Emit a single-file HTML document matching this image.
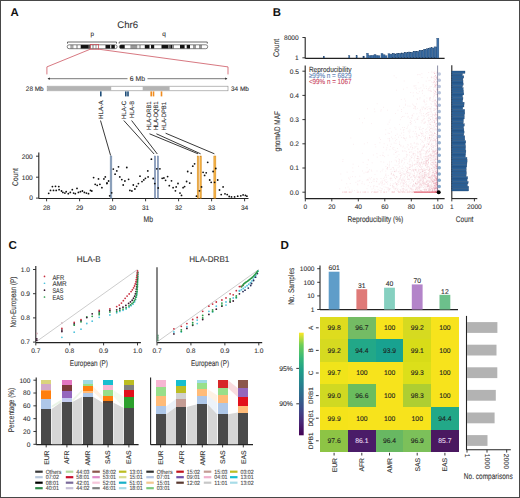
<!DOCTYPE html>
<html><head><meta charset="utf-8"><style>
html,body{margin:0;padding:0;background:#fff;width:520px;height:498px;overflow:hidden;}
svg{display:block;font-family:"Liberation Sans",sans-serif;text-rendering:geometricPrecision;}
</style></head><body>
<svg width="520" height="498" viewBox="0 0 520 498">
<rect x="0" y="0" width="520" height="498" fill="#fff"/>
<text x="10.6" y="16.2" font-size="11.4" text-anchor="start" fill="#111" font-weight="bold">A</text>
<text x="272.8" y="16.2" font-size="11.4" text-anchor="start" fill="#111" font-weight="bold">B</text>
<text x="8.4" y="249.2" font-size="11.6" text-anchor="start" fill="#111" font-weight="bold">C</text>
<text x="280.6" y="249.0" font-size="11.6" text-anchor="start" fill="#111" font-weight="bold">D</text>
<text x="127.7" y="28.3" font-size="9.6" text-anchor="middle" fill="#333" font-weight="normal" stroke="#333" stroke-width="0.1">Chr6</text>
<text x="92.2" y="36.0" font-size="6.4" text-anchor="middle" fill="#333" font-weight="normal" stroke="#333" stroke-width="0.1">p</text>
<text x="164.0" y="36.0" font-size="6.4" text-anchor="middle" fill="#333" font-weight="normal" stroke="#333" stroke-width="0.1">q</text>
<path d="M67.5 43.6 V42 H116.5 V43.6" fill="none" stroke="#444" stroke-width="0.8"/>
<path d="M119.2 43.6 V42 H207.3 V43.6" fill="none" stroke="#444" stroke-width="0.8"/>
<clipPath id="clip67"><rect x="67.2" y="44.8" width="49.90" height="3.9" rx="1.9"/></clipPath>
<g clip-path="url(#clip67)"><rect x="67.2" y="44.8" width="49.90" height="3.9" fill="#fff"/>
<rect x="70.30" y="44.80" width="3.20" height="3.90" fill="#aaa"/>
<rect x="76.00" y="44.80" width="2.00" height="3.90" fill="#bbb"/>
<rect x="80.70" y="44.80" width="8.10" height="3.90" fill="#111"/>
<rect x="88.80" y="44.80" width="1.70" height="3.90" fill="#555"/>
<rect x="92.00" y="44.80" width="2.00" height="3.90" fill="#bbb"/>
<rect x="95.00" y="44.80" width="2.00" height="3.90" fill="#ccc"/>
<rect x="105.50" y="44.80" width="4.70" height="3.90" fill="#111"/>
<rect x="111.30" y="44.80" width="3.50" height="3.90" fill="#111"/>
</g>
<rect x="67.2" y="44.8" width="49.90" height="3.9" rx="1.9" fill="none" stroke="#333" stroke-width="0.6"/>
<clipPath id="clip119"><rect x="119.4" y="44.8" width="88.30" height="3.9" rx="1.9"/></clipPath>
<g clip-path="url(#clip119)"><rect x="119.4" y="44.8" width="88.30" height="3.9" fill="#fff"/>
<rect x="119.40" y="44.80" width="5.30" height="3.90" fill="#111"/>
<rect x="130.40" y="44.80" width="6.90" height="3.90" fill="#999"/>
<rect x="138.80" y="44.80" width="2.20" height="3.90" fill="#bbb"/>
<rect x="144.80" y="44.80" width="4.70" height="3.90" fill="#111"/>
<rect x="151.00" y="44.80" width="3.20" height="3.90" fill="#111"/>
<rect x="161.50" y="44.80" width="6.80" height="3.90" fill="#111"/>
<rect x="168.30" y="44.80" width="2.10" height="3.90" fill="#666"/>
<rect x="170.40" y="44.80" width="2.00" height="3.90" fill="#111"/>
<rect x="172.40" y="44.80" width="1.60" height="3.90" fill="#888"/>
<rect x="180.00" y="44.80" width="4.60" height="3.90" fill="#111"/>
<rect x="186.70" y="44.80" width="3.30" height="3.90" fill="#111"/>
<rect x="193.00" y="44.80" width="3.00" height="3.90" fill="#999"/>
<rect x="199.00" y="44.80" width="3.00" height="3.90" fill="#999"/>
</g>
<rect x="119.4" y="44.8" width="88.30" height="3.9" rx="1.9" fill="none" stroke="#333" stroke-width="0.6"/>
<rect x="90.3" y="44.4" width="8.3" height="4.8" fill="none" stroke="#c9505a" stroke-width="0.8"/>
<path d="M90.3 49.2 L46.9 66.9 V74.4" fill="none" stroke="#d0606a" stroke-width="0.85"/>
<path d="M98.6 49.2 L228 66.9 V74.4" fill="none" stroke="#d0606a" stroke-width="0.85"/>
<path d="M48 78.7 H127.5 M147.5 78.7 H227" stroke="#555" stroke-width="0.8"/>
<path d="M47.5 78.7 l2.4 -1.1 v2.2 z M227.5 78.7 l-2.4 -1.1 v2.2 z" fill="#333"/>
<text x="0" y="0" font-size="6.9" text-anchor="middle" fill="#333" font-weight="normal" transform="translate(137.4 81.0) scale(0.9909 1)" stroke="#333" stroke-width="0.1">6 Mb</text>
<rect x="47.20" y="86.20" width="180.80" height="4.60" fill="#fff" stroke="#8a8a8a" stroke-width="0.6"/>
<rect x="47.20" y="86.40" width="64.00" height="4.20" fill="#b3b3b3"/>
<rect x="142.70" y="86.40" width="26.90" height="4.20" fill="#b3b3b3"/>
<text x="0" y="0" font-size="6.6" text-anchor="start" fill="#333" font-weight="normal" transform="translate(25.8 91.0) scale(0.9758 1)" stroke="#333" stroke-width="0.1">28 Mb</text>
<text x="0" y="0" font-size="6.6" text-anchor="start" fill="#333" font-weight="normal" transform="translate(231.0 91.0) scale(0.9758 1)" stroke="#333" stroke-width="0.1">34 Mb</text>
<rect x="100.00" y="91.40" width="1.60" height="5.00" fill="#1f4e79"/>
<rect x="125.00" y="91.40" width="1.60" height="5.00" fill="#1f4e79"/>
<rect x="127.20" y="91.40" width="1.60" height="5.00" fill="#1f4e79"/>
<rect x="150.40" y="91.40" width="1.60" height="5.00" fill="#f08c1e"/>
<rect x="152.70" y="91.40" width="1.60" height="5.00" fill="#f08c1e"/>
<rect x="160.70" y="91.40" width="1.60" height="5.00" fill="#f08c1e"/>
<text x="0" y="0" font-size="6.3" text-anchor="start" fill="#2a2a2a" font-weight="normal" transform="translate(102.6 119) rotate(-90) scale(0.9916 1)" stroke="#2a2a2a" stroke-width="0.1">HLA-A</text>
<text x="0" y="0" font-size="6.3" text-anchor="start" fill="#2a2a2a" font-weight="normal" transform="translate(125.9 119) rotate(-90) scale(0.9522 1)" stroke="#2a2a2a" stroke-width="0.1">HLA-C</text>
<text x="0" y="0" font-size="6.3" text-anchor="start" fill="#2a2a2a" font-weight="normal" transform="translate(133.6 118) rotate(-90) scale(0.9162 1)" stroke="#2a2a2a" stroke-width="0.1">HLA-B</text>
<text x="0" y="0" font-size="6.3" text-anchor="start" fill="#2a2a2a" font-weight="normal" transform="translate(151.3 130) rotate(-90) scale(0.9147 1)" stroke="#2a2a2a" stroke-width="0.1">HLA-DRB1</text>
<text x="0" y="0" font-size="6.3" text-anchor="start" fill="#2a2a2a" font-weight="normal" transform="translate(158.3 130) rotate(-90) scale(0.9045 1)" stroke="#2a2a2a" stroke-width="0.1">HLA-DQB1</text>
<text x="0" y="0" font-size="6.3" text-anchor="start" fill="#2a2a2a" font-weight="normal" transform="translate(165.9 130.5) rotate(-90) scale(0.9250 1)" stroke="#2a2a2a" stroke-width="0.1">HLA-DPB1</text>
<line x1="100.50" y1="120.50" x2="110.60" y2="155.50" stroke="#222" stroke-width="0.9"/>
<line x1="123.80" y1="120.50" x2="154.10" y2="154.00" stroke="#222" stroke-width="0.9"/>
<line x1="131.60" y1="120.50" x2="157.30" y2="154.00" stroke="#222" stroke-width="0.9"/>
<line x1="149.50" y1="133.80" x2="198.00" y2="153.80" stroke="#222" stroke-width="0.9"/>
<line x1="156.40" y1="133.80" x2="200.60" y2="153.80" stroke="#222" stroke-width="0.9"/>
<line x1="165.60" y1="133.20" x2="214.40" y2="153.80" stroke="#222" stroke-width="0.9"/>
<line x1="38.80" y1="152.60" x2="38.80" y2="198.60" stroke="#222" stroke-width="1.1"/>
<line x1="36.00" y1="156.20" x2="38.80" y2="156.20" stroke="#222" stroke-width="0.9"/>
<text x="32.8" y="158.5" font-size="6.6" text-anchor="end" fill="#333" font-weight="normal" stroke="#333" stroke-width="0.1">200</text>
<line x1="36.00" y1="177.20" x2="38.80" y2="177.20" stroke="#222" stroke-width="0.9"/>
<text x="32.8" y="179.5" font-size="6.6" text-anchor="end" fill="#333" font-weight="normal" stroke="#333" stroke-width="0.1">100</text>
<line x1="36.00" y1="198.10" x2="38.80" y2="198.10" stroke="#222" stroke-width="0.9"/>
<text x="32.8" y="200.4" font-size="6.6" text-anchor="end" fill="#333" font-weight="normal" stroke="#333" stroke-width="0.1">0</text>
<line x1="38.80" y1="198.50" x2="248.50" y2="198.50" stroke="#222" stroke-width="1.1"/>
<line x1="46.60" y1="198.50" x2="46.60" y2="201.30" stroke="#222" stroke-width="0.9"/>
<text x="46.6" y="210.0" font-size="6.6" text-anchor="middle" fill="#333" font-weight="normal" stroke="#333" stroke-width="0.1">28</text>
<line x1="79.60" y1="198.50" x2="79.60" y2="201.30" stroke="#222" stroke-width="0.9"/>
<text x="79.6" y="210.0" font-size="6.6" text-anchor="middle" fill="#333" font-weight="normal" stroke="#333" stroke-width="0.1">29</text>
<line x1="112.60" y1="198.50" x2="112.60" y2="201.30" stroke="#222" stroke-width="0.9"/>
<text x="112.6" y="210.0" font-size="6.6" text-anchor="middle" fill="#333" font-weight="normal" stroke="#333" stroke-width="0.1">30</text>
<line x1="145.60" y1="198.50" x2="145.60" y2="201.30" stroke="#222" stroke-width="0.9"/>
<text x="145.6" y="210.0" font-size="6.6" text-anchor="middle" fill="#333" font-weight="normal" stroke="#333" stroke-width="0.1">31</text>
<line x1="178.60" y1="198.50" x2="178.60" y2="201.30" stroke="#222" stroke-width="0.9"/>
<text x="178.6" y="210.0" font-size="6.6" text-anchor="middle" fill="#333" font-weight="normal" stroke="#333" stroke-width="0.1">32</text>
<line x1="211.60" y1="198.50" x2="211.60" y2="201.30" stroke="#222" stroke-width="0.9"/>
<text x="211.6" y="210.0" font-size="6.6" text-anchor="middle" fill="#333" font-weight="normal" stroke="#333" stroke-width="0.1">33</text>
<line x1="244.60" y1="198.50" x2="244.60" y2="201.30" stroke="#222" stroke-width="0.9"/>
<text x="244.6" y="210.0" font-size="6.6" text-anchor="middle" fill="#333" font-weight="normal" stroke="#333" stroke-width="0.1">34</text>
<text x="0" y="0" font-size="8.3" text-anchor="middle" fill="#333" font-weight="normal" transform="translate(148.3 221.7) scale(0.8239 1)" stroke="#333" stroke-width="0.1">Mb</text>
<text x="0" y="0" font-size="8.2" text-anchor="middle" fill="#333" font-weight="normal" transform="translate(18.1 177.0) rotate(-90) scale(0.8180 1)" stroke="#333" stroke-width="0.1">Count</text>
<rect x="110.15" y="156.00" width="1.70" height="42.20" fill="#8ea4c0" stroke="#6f87a6" stroke-width="0.5"/>
<rect x="154.35" y="156.00" width="1.30" height="42.20" fill="#8ea0c0" stroke="#6f84a8" stroke-width="0.5"/>
<rect x="157.30" y="156.00" width="1.20" height="42.20" fill="#8ea0c0" stroke="#6f84a8" stroke-width="0.5"/>
<rect x="197.20" y="156.00" width="1.40" height="42.20" fill="#f2b245" stroke="#d98a1e" stroke-width="0.5"/>
<rect x="199.90" y="156.00" width="1.40" height="42.20" fill="#f2b245" stroke="#d98a1e" stroke-width="0.5"/>
<rect x="213.85" y="156.00" width="2.00" height="42.20" fill="#f2b245" stroke="#d98a1e" stroke-width="0.5"/>
<circle cx="48.70" cy="193.30" r="0.9" fill="#111"/>
<circle cx="50.50" cy="190.40" r="0.9" fill="#111"/>
<circle cx="52.40" cy="186.60" r="0.9" fill="#111"/>
<circle cx="53.50" cy="190.40" r="0.9" fill="#111"/>
<circle cx="55.50" cy="186.30" r="0.9" fill="#111"/>
<circle cx="56.20" cy="190.40" r="0.9" fill="#111"/>
<circle cx="58.80" cy="186.60" r="0.9" fill="#111"/>
<circle cx="59.10" cy="189.70" r="0.9" fill="#111"/>
<circle cx="61.50" cy="191.00" r="0.9" fill="#111"/>
<circle cx="62.90" cy="192.40" r="0.9" fill="#111"/>
<circle cx="64.90" cy="193.10" r="0.9" fill="#111"/>
<circle cx="66.20" cy="191.70" r="0.9" fill="#111"/>
<circle cx="68.30" cy="193.70" r="0.9" fill="#111"/>
<circle cx="70.30" cy="192.40" r="0.9" fill="#111"/>
<circle cx="72.30" cy="189.70" r="0.9" fill="#111"/>
<circle cx="73.60" cy="193.10" r="0.9" fill="#111"/>
<circle cx="75.30" cy="193.70" r="0.9" fill="#111"/>
<circle cx="77.00" cy="188.40" r="0.9" fill="#111"/>
<circle cx="78.40" cy="192.40" r="0.9" fill="#111"/>
<circle cx="80.40" cy="191.70" r="0.9" fill="#111"/>
<circle cx="82.40" cy="191.00" r="0.9" fill="#111"/>
<circle cx="84.40" cy="192.40" r="0.9" fill="#111"/>
<circle cx="86.40" cy="193.10" r="0.9" fill="#111"/>
<circle cx="88.50" cy="193.70" r="0.9" fill="#111"/>
<circle cx="90.50" cy="190.40" r="0.9" fill="#111"/>
<circle cx="91.80" cy="191.00" r="0.9" fill="#111"/>
<circle cx="93.60" cy="177.60" r="0.9" fill="#111"/>
<circle cx="95.20" cy="184.30" r="0.9" fill="#111"/>
<circle cx="97.20" cy="185.30" r="0.9" fill="#111"/>
<circle cx="98.50" cy="178.90" r="0.9" fill="#111"/>
<circle cx="99.90" cy="184.30" r="0.9" fill="#111"/>
<circle cx="101.90" cy="187.70" r="0.9" fill="#111"/>
<circle cx="103.90" cy="178.90" r="0.9" fill="#111"/>
<circle cx="105.30" cy="176.90" r="0.9" fill="#111"/>
<circle cx="106.90" cy="183.60" r="0.9" fill="#111"/>
<circle cx="108.60" cy="181.00" r="0.9" fill="#111"/>
<circle cx="107.00" cy="183.00" r="0.9" fill="#111"/>
<circle cx="109.70" cy="195.80" r="0.9" fill="#111"/>
<circle cx="111.70" cy="192.80" r="0.9" fill="#111"/>
<circle cx="113.30" cy="169.10" r="0.9" fill="#111"/>
<circle cx="115.10" cy="174.20" r="0.9" fill="#111"/>
<circle cx="116.80" cy="170.90" r="0.9" fill="#111"/>
<circle cx="118.50" cy="166.80" r="0.9" fill="#111"/>
<circle cx="119.80" cy="176.90" r="0.9" fill="#111"/>
<circle cx="121.80" cy="179.60" r="0.9" fill="#111"/>
<circle cx="123.20" cy="185.00" r="0.9" fill="#111"/>
<circle cx="124.90" cy="181.00" r="0.9" fill="#111"/>
<circle cx="126.80" cy="167.50" r="0.9" fill="#111"/>
<circle cx="128.60" cy="179.30" r="0.9" fill="#111"/>
<circle cx="129.90" cy="190.40" r="0.9" fill="#111"/>
<circle cx="131.90" cy="191.00" r="0.9" fill="#111"/>
<circle cx="133.30" cy="185.00" r="0.9" fill="#111"/>
<circle cx="134.90" cy="189.00" r="0.9" fill="#111"/>
<circle cx="136.60" cy="186.30" r="0.9" fill="#111"/>
<circle cx="138.40" cy="183.60" r="0.9" fill="#111"/>
<circle cx="140.00" cy="176.20" r="0.9" fill="#111"/>
<circle cx="142.00" cy="181.60" r="0.9" fill="#111"/>
<circle cx="143.80" cy="179.90" r="0.9" fill="#111"/>
<circle cx="145.40" cy="178.30" r="0.9" fill="#111"/>
<circle cx="147.80" cy="170.90" r="0.9" fill="#111"/>
<circle cx="148.10" cy="176.90" r="0.9" fill="#111"/>
<circle cx="151.40" cy="159.20" r="0.9" fill="#111"/>
<circle cx="153.20" cy="178.50" r="0.9" fill="#111"/>
<circle cx="154.80" cy="183.60" r="0.9" fill="#111"/>
<circle cx="156.80" cy="168.80" r="0.9" fill="#111"/>
<circle cx="158.20" cy="188.00" r="0.9" fill="#111"/>
<circle cx="159.90" cy="168.80" r="0.9" fill="#111"/>
<circle cx="162.20" cy="178.30" r="0.9" fill="#111"/>
<circle cx="163.90" cy="178.00" r="0.9" fill="#111"/>
<circle cx="165.60" cy="180.30" r="0.9" fill="#111"/>
<circle cx="167.60" cy="176.60" r="0.9" fill="#111"/>
<circle cx="169.30" cy="185.70" r="0.9" fill="#111"/>
<circle cx="171.50" cy="180.80" r="0.9" fill="#111"/>
<circle cx="173.10" cy="187.70" r="0.9" fill="#111"/>
<circle cx="175.40" cy="190.80" r="0.9" fill="#111"/>
<circle cx="176.20" cy="186.90" r="0.9" fill="#111"/>
<circle cx="178.00" cy="183.50" r="0.9" fill="#111"/>
<circle cx="180.00" cy="193.10" r="0.9" fill="#111"/>
<circle cx="181.50" cy="195.40" r="0.9" fill="#111"/>
<circle cx="183.10" cy="187.70" r="0.9" fill="#111"/>
<circle cx="184.60" cy="186.60" r="0.9" fill="#111"/>
<circle cx="186.60" cy="181.50" r="0.9" fill="#111"/>
<circle cx="187.70" cy="171.50" r="0.9" fill="#111"/>
<circle cx="189.70" cy="183.10" r="0.9" fill="#111"/>
<circle cx="191.20" cy="173.10" r="0.9" fill="#111"/>
<circle cx="192.80" cy="166.20" r="0.9" fill="#111"/>
<circle cx="194.60" cy="163.80" r="0.9" fill="#111"/>
<circle cx="196.50" cy="196.20" r="0.9" fill="#111"/>
<circle cx="199.50" cy="190.80" r="0.9" fill="#111"/>
<circle cx="201.50" cy="186.90" r="0.9" fill="#111"/>
<circle cx="203.10" cy="172.30" r="0.9" fill="#111"/>
<circle cx="204.60" cy="175.40" r="0.9" fill="#111"/>
<circle cx="206.20" cy="172.80" r="0.9" fill="#111"/>
<circle cx="207.70" cy="162.30" r="0.9" fill="#111"/>
<circle cx="209.70" cy="180.00" r="0.9" fill="#111"/>
<circle cx="211.20" cy="182.30" r="0.9" fill="#111"/>
<circle cx="213.10" cy="171.50" r="0.9" fill="#111"/>
<circle cx="214.60" cy="182.30" r="0.9" fill="#111"/>
<circle cx="215.80" cy="168.50" r="0.9" fill="#111"/>
<circle cx="217.70" cy="180.00" r="0.9" fill="#111"/>
<circle cx="219.50" cy="190.00" r="0.9" fill="#111"/>
<circle cx="221.20" cy="194.60" r="0.9" fill="#111"/>
<circle cx="223.10" cy="186.90" r="0.9" fill="#111"/>
<circle cx="225.00" cy="193.80" r="0.9" fill="#111"/>
<circle cx="227.20" cy="194.60" r="0.9" fill="#111"/>
<circle cx="229.20" cy="196.50" r="0.9" fill="#111"/>
<circle cx="231.50" cy="196.90" r="0.9" fill="#111"/>
<circle cx="234.60" cy="196.90" r="0.9" fill="#111"/>
<circle cx="237.70" cy="196.20" r="0.9" fill="#111"/>
<circle cx="240.80" cy="195.80" r="0.9" fill="#111"/>
<circle cx="243.10" cy="194.90" r="0.9" fill="#111"/>
<circle cx="245.40" cy="195.40" r="0.9" fill="#111"/>
<circle cx="246.90" cy="196.20" r="0.9" fill="#111"/>
<line x1="305.20" y1="37.20" x2="305.20" y2="58.60" stroke="#222" stroke-width="1.1"/>
<line x1="302.40" y1="37.50" x2="305.20" y2="37.50" stroke="#222" stroke-width="0.9"/>
<text x="298.7" y="39.8" font-size="6.6" text-anchor="end" fill="#333" font-weight="normal" stroke="#333" stroke-width="0.1">8000</text>
<line x1="302.40" y1="57.80" x2="305.20" y2="57.80" stroke="#222" stroke-width="0.9"/>
<text x="298.7" y="60.099999999999994" font-size="6.6" text-anchor="end" fill="#333" font-weight="normal" stroke="#333" stroke-width="0.1">1</text>
<text x="0" y="0" font-size="8.2" text-anchor="middle" fill="#333" font-weight="normal" transform="translate(279.4 47.9) rotate(-90) scale(0.8318 1)" stroke="#333" stroke-width="0.1">Count</text>
<line x1="305.20" y1="58.40" x2="444.60" y2="58.40" stroke="#222" stroke-width="1.1"/>
<rect x="323.20" y="56.30" width="1.40" height="1.70" fill="#3c70a8" stroke="#1e3f66" stroke-width="0.3"/>
<rect x="348.60" y="55.60" width="1.30" height="2.40" fill="#3c70a8" stroke="#1e3f66" stroke-width="0.3"/>
<rect x="356.00" y="55.60" width="1.30" height="2.40" fill="#3c70a8" stroke="#1e3f66" stroke-width="0.3"/>
<rect x="362.90" y="56.10" width="1.60" height="1.90" fill="#3c70a8" stroke="#1e3f66" stroke-width="0.3"/>
<rect x="366.50" y="53.20" width="2.00" height="4.80" fill="#3c70a8" stroke="#1e3f66" stroke-width="0.3"/>
<rect x="368.50" y="55.50" width="2.50" height="2.50" fill="#3c70a8" stroke="#1e3f66" stroke-width="0.3"/>
<rect x="371.00" y="55.30" width="3.00" height="2.70" fill="#3c70a8" stroke="#1e3f66" stroke-width="0.3"/>
<rect x="374.00" y="54.50" width="2.00" height="3.50" fill="#3c70a8" stroke="#1e3f66" stroke-width="0.3"/>
<rect x="376.00" y="55.50" width="2.00" height="2.50" fill="#3c70a8" stroke="#1e3f66" stroke-width="0.3"/>
<rect x="378.00" y="55.80" width="2.00" height="2.20" fill="#3c70a8" stroke="#1e3f66" stroke-width="0.3"/>
<rect x="381.00" y="53.40" width="2.00" height="4.60" fill="#3c70a8" stroke="#1e3f66" stroke-width="0.3"/>
<rect x="383.00" y="54.80" width="2.00" height="3.20" fill="#3c70a8" stroke="#1e3f66" stroke-width="0.3"/>
<rect x="385.00" y="55.80" width="2.00" height="2.20" fill="#3c70a8" stroke="#1e3f66" stroke-width="0.3"/>
<rect x="388.00" y="53.70" width="2.00" height="4.30" fill="#3c70a8" stroke="#1e3f66" stroke-width="0.3"/>
<rect x="390.00" y="54.20" width="2.00" height="3.80" fill="#3c70a8" stroke="#1e3f66" stroke-width="0.3"/>
<rect x="392.00" y="53.79" width="1.50" height="4.21" fill="#3c70a8" stroke="#1e3f66" stroke-width="0.3"/>
<rect x="393.50" y="53.55" width="1.50" height="4.45" fill="#3c70a8" stroke="#1e3f66" stroke-width="0.3"/>
<rect x="395.00" y="54.08" width="1.50" height="3.92" fill="#3c70a8" stroke="#1e3f66" stroke-width="0.3"/>
<rect x="396.50" y="53.30" width="1.50" height="4.70" fill="#3c70a8" stroke="#1e3f66" stroke-width="0.3"/>
<rect x="398.00" y="53.74" width="1.50" height="4.26" fill="#3c70a8" stroke="#1e3f66" stroke-width="0.3"/>
<rect x="399.50" y="53.41" width="1.50" height="4.59" fill="#3c70a8" stroke="#1e3f66" stroke-width="0.3"/>
<rect x="401.00" y="52.89" width="1.50" height="5.11" fill="#3c70a8" stroke="#1e3f66" stroke-width="0.3"/>
<rect x="402.50" y="53.27" width="1.50" height="4.73" fill="#3c70a8" stroke="#1e3f66" stroke-width="0.3"/>
<rect x="404.00" y="52.53" width="1.50" height="5.47" fill="#3c70a8" stroke="#1e3f66" stroke-width="0.3"/>
<rect x="405.50" y="52.82" width="1.50" height="5.18" fill="#3c70a8" stroke="#1e3f66" stroke-width="0.3"/>
<rect x="407.00" y="52.18" width="1.50" height="5.82" fill="#3c70a8" stroke="#1e3f66" stroke-width="0.3"/>
<rect x="408.50" y="51.99" width="1.50" height="6.01" fill="#3c70a8" stroke="#1e3f66" stroke-width="0.3"/>
<rect x="410.00" y="52.17" width="1.50" height="5.83" fill="#3c70a8" stroke="#1e3f66" stroke-width="0.3"/>
<rect x="411.50" y="52.41" width="1.50" height="5.59" fill="#3c70a8" stroke="#1e3f66" stroke-width="0.3"/>
<rect x="413.00" y="51.32" width="1.50" height="6.68" fill="#3c70a8" stroke="#1e3f66" stroke-width="0.3"/>
<rect x="414.50" y="51.18" width="1.50" height="6.82" fill="#3c70a8" stroke="#1e3f66" stroke-width="0.3"/>
<rect x="416.00" y="51.39" width="1.50" height="6.61" fill="#3c70a8" stroke="#1e3f66" stroke-width="0.3"/>
<rect x="417.50" y="51.49" width="1.50" height="6.51" fill="#3c70a8" stroke="#1e3f66" stroke-width="0.3"/>
<rect x="419.00" y="50.76" width="1.50" height="7.24" fill="#3c70a8" stroke="#1e3f66" stroke-width="0.3"/>
<rect x="420.50" y="50.24" width="1.50" height="7.76" fill="#3c70a8" stroke="#1e3f66" stroke-width="0.3"/>
<rect x="422.00" y="50.62" width="1.50" height="7.38" fill="#3c70a8" stroke="#1e3f66" stroke-width="0.3"/>
<rect x="423.50" y="49.19" width="1.50" height="8.81" fill="#3c70a8" stroke="#1e3f66" stroke-width="0.3"/>
<rect x="425.00" y="49.83" width="1.50" height="8.17" fill="#3c70a8" stroke="#1e3f66" stroke-width="0.3"/>
<rect x="426.50" y="48.81" width="1.50" height="9.19" fill="#3c70a8" stroke="#1e3f66" stroke-width="0.3"/>
<rect x="428.00" y="48.29" width="1.50" height="9.71" fill="#3c70a8" stroke="#1e3f66" stroke-width="0.3"/>
<rect x="429.50" y="47.90" width="1.50" height="10.10" fill="#3c70a8" stroke="#1e3f66" stroke-width="0.3"/>
<rect x="431.00" y="47.76" width="1.50" height="10.24" fill="#3c70a8" stroke="#1e3f66" stroke-width="0.3"/>
<rect x="432.50" y="48.00" width="1.50" height="10.00" fill="#3c70a8" stroke="#1e3f66" stroke-width="0.3"/>
<rect x="434.00" y="46.85" width="1.50" height="11.15" fill="#3c70a8" stroke="#1e3f66" stroke-width="0.3"/>
<rect x="435.50" y="46.94" width="1.50" height="11.06" fill="#3c70a8" stroke="#1e3f66" stroke-width="0.3"/>
<rect x="436.80" y="38.20" width="2.10" height="19.80" fill="#3c70a8" stroke="#1e3f66" stroke-width="0.3"/>
<line x1="305.20" y1="65.60" x2="305.20" y2="198.80" stroke="#222" stroke-width="1.1"/>
<line x1="302.40" y1="71.20" x2="305.20" y2="71.20" stroke="#222" stroke-width="0.9"/>
<text x="298.9" y="73.5" font-size="6.6" text-anchor="end" fill="#333" font-weight="normal" stroke="#333" stroke-width="0.1">0.5</text>
<line x1="302.40" y1="95.40" x2="305.20" y2="95.40" stroke="#222" stroke-width="0.9"/>
<text x="298.9" y="97.7" font-size="6.6" text-anchor="end" fill="#333" font-weight="normal" stroke="#333" stroke-width="0.1">0.4</text>
<line x1="302.40" y1="119.60" x2="305.20" y2="119.60" stroke="#222" stroke-width="0.9"/>
<text x="298.9" y="121.89999999999999" font-size="6.6" text-anchor="end" fill="#333" font-weight="normal" stroke="#333" stroke-width="0.1">0.3</text>
<line x1="302.40" y1="143.80" x2="305.20" y2="143.80" stroke="#222" stroke-width="0.9"/>
<text x="298.9" y="146.10000000000002" font-size="6.6" text-anchor="end" fill="#333" font-weight="normal" stroke="#333" stroke-width="0.1">0.2</text>
<line x1="302.40" y1="168.00" x2="305.20" y2="168.00" stroke="#222" stroke-width="0.9"/>
<text x="298.9" y="170.3" font-size="6.6" text-anchor="end" fill="#333" font-weight="normal" stroke="#333" stroke-width="0.1">0.1</text>
<line x1="302.40" y1="192.20" x2="305.20" y2="192.20" stroke="#222" stroke-width="0.9"/>
<text x="298.9" y="194.5" font-size="6.6" text-anchor="end" fill="#333" font-weight="normal" stroke="#333" stroke-width="0.1">0.0</text>
<line x1="305.20" y1="198.60" x2="444.60" y2="198.60" stroke="#222" stroke-width="1.1"/>
<line x1="305.30" y1="198.60" x2="305.30" y2="201.40" stroke="#222" stroke-width="0.9"/>
<text x="305.3" y="209.4" font-size="6.6" text-anchor="middle" fill="#333" font-weight="normal" stroke="#333" stroke-width="0.1">0</text>
<line x1="331.80" y1="198.60" x2="331.80" y2="201.40" stroke="#222" stroke-width="0.9"/>
<text x="331.8" y="209.4" font-size="6.6" text-anchor="middle" fill="#333" font-weight="normal" stroke="#333" stroke-width="0.1">20</text>
<line x1="358.30" y1="198.60" x2="358.30" y2="201.40" stroke="#222" stroke-width="0.9"/>
<text x="358.3" y="209.4" font-size="6.6" text-anchor="middle" fill="#333" font-weight="normal" stroke="#333" stroke-width="0.1">40</text>
<line x1="384.80" y1="198.60" x2="384.80" y2="201.40" stroke="#222" stroke-width="0.9"/>
<text x="384.8" y="209.4" font-size="6.6" text-anchor="middle" fill="#333" font-weight="normal" stroke="#333" stroke-width="0.1">60</text>
<line x1="411.30" y1="198.60" x2="411.30" y2="201.40" stroke="#222" stroke-width="0.9"/>
<text x="411.3" y="209.4" font-size="6.6" text-anchor="middle" fill="#333" font-weight="normal" stroke="#333" stroke-width="0.1">80</text>
<line x1="437.80" y1="198.60" x2="437.80" y2="201.40" stroke="#222" stroke-width="0.9"/>
<text x="437.8" y="209.4" font-size="6.6" text-anchor="middle" fill="#333" font-weight="normal" stroke="#333" stroke-width="0.1">100</text>
<text x="0" y="0" font-size="8.3" text-anchor="middle" fill="#333" font-weight="normal" transform="translate(375.4 221.7) scale(0.8011 1)" stroke="#333" stroke-width="0.1">Reproducibility (%)</text>
<text x="0" y="0" font-size="8.2" text-anchor="middle" fill="#333" font-weight="normal" transform="translate(279.9 131.3) rotate(-90) scale(0.7827 1)" stroke="#333" stroke-width="0.1">gnomAD MAF</text>
<path d="M419.0 181.7h0.01M417.3 156.3h0.01M392.0 191.7h0.01M398.1 167.6h0.01M434.6 152.7h0.01M427.0 113.8h0.01M436.7 149.1h0.01M430.0 157.6h0.01M428.4 114.5h0.01M420.1 110.5h0.01M401.2 172.7h0.01M413.8 86.0h0.01M432.2 186.5h0.01M415.7 170.0h0.01M427.2 164.8h0.01M420.0 158.1h0.01M386.9 147.8h0.01M434.6 149.1h0.01M426.8 101.2h0.01M395.2 183.0h0.01M436.5 179.2h0.01M397.9 188.6h0.01M429.5 185.9h0.01M437.2 112.4h0.01M406.1 190.4h0.01M381.2 109.8h0.01M436.0 177.9h0.01M432.2 191.0h0.01M434.0 155.7h0.01M432.6 113.9h0.01M431.3 104.3h0.01M415.7 163.8h0.01M417.8 160.5h0.01M425.8 164.8h0.01M429.7 181.7h0.01M420.4 163.7h0.01M417.9 171.4h0.01M417.1 155.2h0.01M425.3 154.0h0.01M409.8 175.4h0.01M436.4 191.3h0.01M423.4 181.0h0.01M427.1 177.3h0.01M417.0 174.4h0.01M403.7 173.9h0.01M409.9 159.6h0.01M398.7 182.5h0.01M424.2 184.2h0.01M428.1 188.0h0.01M428.8 122.8h0.01M428.0 185.0h0.01M429.1 108.5h0.01M419.1 187.2h0.01M406.9 128.5h0.01M399.2 179.6h0.01M430.4 128.7h0.01M400.6 178.8h0.01M425.3 175.7h0.01M380.5 171.8h0.01M365.9 192.0h0.01M371.3 170.1h0.01M405.4 182.5h0.01M423.3 150.1h0.01M431.5 176.0h0.01M431.1 157.8h0.01M379.6 190.4h0.01M410.7 92.5h0.01M437.7 158.9h0.01M429.3 184.9h0.01M426.7 163.4h0.01M429.1 155.5h0.01M428.2 115.6h0.01M432.8 175.4h0.01M434.9 126.5h0.01M418.0 93.5h0.01M413.2 191.9h0.01M429.7 190.2h0.01M426.0 163.2h0.01M437.4 134.2h0.01M434.2 186.9h0.01M436.4 117.6h0.01M428.9 177.5h0.01M420.1 151.9h0.01M427.9 184.0h0.01M411.2 160.8h0.01M432.8 189.0h0.01M406.5 156.3h0.01M421.2 129.7h0.01M422.3 174.2h0.01M411.2 171.1h0.01M419.7 181.3h0.01M424.0 189.3h0.01M398.0 110.2h0.01M416.4 103.9h0.01M435.2 168.0h0.01M395.1 150.2h0.01M412.0 149.6h0.01M415.6 188.0h0.01M401.1 186.2h0.01M435.5 188.5h0.01M437.5 184.6h0.01M392.4 187.2h0.01M389.2 122.2h0.01M437.4 130.1h0.01M410.4 164.5h0.01M388.0 138.7h0.01M418.8 177.0h0.01M432.9 181.5h0.01M409.3 155.1h0.01M426.1 174.5h0.01M435.9 171.2h0.01M406.6 171.6h0.01M410.8 146.7h0.01M423.7 164.0h0.01M435.3 104.0h0.01M392.7 138.8h0.01M409.4 169.5h0.01M432.6 180.2h0.01M431.8 177.6h0.01M434.6 73.5h0.01M394.7 171.6h0.01M431.6 180.2h0.01M427.0 166.9h0.01M429.1 174.9h0.01M417.8 166.9h0.01M410.2 122.5h0.01M410.2 166.8h0.01M408.3 172.4h0.01M431.9 167.8h0.01M417.1 143.2h0.01M433.3 117.7h0.01M433.1 180.6h0.01M402.6 116.5h0.01M432.1 114.6h0.01M435.8 141.7h0.01M432.2 122.7h0.01M414.0 158.6h0.01M424.5 176.4h0.01M417.1 183.1h0.01M419.7 173.0h0.01M411.7 179.8h0.01M403.8 107.7h0.01M433.0 82.4h0.01M431.6 137.4h0.01M405.2 151.1h0.01M379.3 137.9h0.01M435.2 162.5h0.01M408.9 175.4h0.01M433.7 159.8h0.01M434.1 153.6h0.01M435.5 151.0h0.01M428.1 186.3h0.01M421.3 157.0h0.01M429.3 168.5h0.01M406.8 189.4h0.01M409.2 161.9h0.01M426.7 180.2h0.01M420.1 190.5h0.01M429.9 135.5h0.01M420.4 172.2h0.01M394.4 175.3h0.01M435.0 180.0h0.01M414.8 133.8h0.01M425.0 184.1h0.01M415.0 126.7h0.01M425.2 186.1h0.01M419.6 163.2h0.01M401.3 181.1h0.01M400.7 129.3h0.01M419.6 173.5h0.01M362.3 153.3h0.01M391.8 178.4h0.01M410.8 156.6h0.01M418.6 135.2h0.01M424.3 163.5h0.01M437.0 163.0h0.01M426.2 152.0h0.01M436.0 106.0h0.01M436.6 154.4h0.01M435.9 181.9h0.01M433.5 89.3h0.01M435.3 146.3h0.01M384.3 156.6h0.01M430.3 140.1h0.01M415.0 88.3h0.01M425.6 137.4h0.01M435.5 190.5h0.01M421.3 185.4h0.01M426.3 162.3h0.01M423.4 178.1h0.01M433.6 172.3h0.01M429.1 143.0h0.01M418.2 163.0h0.01M432.1 192.1h0.01M422.5 186.2h0.01M433.2 183.1h0.01M436.8 185.1h0.01M421.1 185.1h0.01M422.8 191.3h0.01M436.7 145.1h0.01M437.6 172.6h0.01M435.4 182.6h0.01M414.0 185.2h0.01M436.7 187.1h0.01M401.3 179.7h0.01M433.5 87.6h0.01M398.1 180.2h0.01M435.7 175.8h0.01M437.3 157.5h0.01M432.8 188.5h0.01M411.7 190.1h0.01M350.2 183.5h0.01M396.0 129.2h0.01M428.8 190.9h0.01M436.7 78.8h0.01M435.8 118.8h0.01M411.8 176.5h0.01M405.4 184.8h0.01M425.3 122.3h0.01M425.3 174.7h0.01M426.2 133.7h0.01M407.0 185.0h0.01M428.6 144.2h0.01M407.2 185.7h0.01M406.7 167.8h0.01M431.4 188.2h0.01M396.1 152.4h0.01M387.7 169.1h0.01M426.8 176.5h0.01M367.1 172.5h0.01M435.0 159.6h0.01M432.0 151.6h0.01M412.7 185.8h0.01M431.6 191.7h0.01M418.0 182.6h0.01M421.9 133.4h0.01M433.1 162.5h0.01M394.3 189.0h0.01M352.5 191.3h0.01M436.5 105.6h0.01M395.6 182.4h0.01M409.5 152.4h0.01M416.5 175.8h0.01M393.5 187.6h0.01M434.0 126.9h0.01M408.8 168.0h0.01M422.2 175.7h0.01M409.7 161.0h0.01M419.1 151.7h0.01M424.5 176.4h0.01M433.8 182.7h0.01M399.6 142.0h0.01M383.3 155.5h0.01M371.8 171.2h0.01M431.4 76.5h0.01M433.9 94.3h0.01M435.5 184.3h0.01M420.8 178.7h0.01M403.5 190.6h0.01M428.6 170.3h0.01M431.3 139.0h0.01M425.1 178.4h0.01M403.0 185.8h0.01M430.7 111.3h0.01M423.3 177.7h0.01M428.6 162.0h0.01M423.5 179.2h0.01M431.7 128.5h0.01M437.3 128.6h0.01M421.2 162.9h0.01M432.3 190.2h0.01M352.8 167.9h0.01M432.3 190.8h0.01M428.2 170.3h0.01M435.6 161.6h0.01M399.3 181.2h0.01M436.7 180.5h0.01M415.5 154.0h0.01M432.7 128.2h0.01M409.8 137.2h0.01M424.7 123.4h0.01M437.5 185.0h0.01M405.6 104.2h0.01M386.3 149.8h0.01M426.9 156.5h0.01M433.1 184.9h0.01M426.6 161.5h0.01M401.9 168.7h0.01M428.6 185.7h0.01M395.3 171.6h0.01M426.5 88.5h0.01M421.2 159.1h0.01M409.1 179.5h0.01M410.5 188.0h0.01M389.6 164.2h0.01M433.8 152.3h0.01M426.4 184.5h0.01M430.8 177.5h0.01M433.7 80.7h0.01M434.3 179.4h0.01M431.1 189.0h0.01M419.5 189.0h0.01M422.2 121.7h0.01M429.8 192.0h0.01M430.1 189.4h0.01M418.8 180.1h0.01M362.3 181.8h0.01M435.6 100.9h0.01M417.3 148.7h0.01M402.1 190.0h0.01M396.4 184.1h0.01M357.1 190.3h0.01M435.1 173.5h0.01M434.2 179.4h0.01M427.5 186.9h0.01M432.9 189.1h0.01M427.8 181.3h0.01M411.2 166.5h0.01M427.4 191.4h0.01M423.1 133.2h0.01M425.4 162.3h0.01M434.3 122.9h0.01M416.0 87.7h0.01M434.7 121.2h0.01M436.9 183.4h0.01M391.1 171.8h0.01M386.9 191.7h0.01M423.6 147.4h0.01M418.6 188.4h0.01M415.3 186.1h0.01M427.6 164.9h0.01M417.1 175.0h0.01M415.9 85.7h0.01M349.4 179.1h0.01M421.0 187.1h0.01M413.7 176.1h0.01M423.5 168.8h0.01M374.9 111.7h0.01M416.1 169.6h0.01M396.0 170.7h0.01M389.8 189.8h0.01M432.3 174.5h0.01M430.1 108.8h0.01M429.2 144.1h0.01M426.7 164.9h0.01M396.7 151.4h0.01M431.6 186.1h0.01M434.4 155.3h0.01M429.7 177.2h0.01M383.8 162.2h0.01M405.7 140.4h0.01M430.5 97.6h0.01M385.7 187.2h0.01M389.2 167.2h0.01M396.1 184.0h0.01M437.0 188.8h0.01M392.6 191.9h0.01M426.2 179.8h0.01M415.8 170.3h0.01M435.9 170.0h0.01M436.1 146.7h0.01M350.8 138.0h0.01M421.3 191.8h0.01M413.6 105.2h0.01M418.5 171.2h0.01M425.5 183.5h0.01M437.6 152.5h0.01M419.2 163.5h0.01M423.0 182.0h0.01M431.1 162.2h0.01M422.8 150.3h0.01M383.7 178.5h0.01M417.1 162.8h0.01M395.4 135.5h0.01M433.3 140.3h0.01M429.2 170.2h0.01M434.5 112.8h0.01M436.7 84.8h0.01M432.2 172.6h0.01M420.5 190.7h0.01M409.8 118.4h0.01M426.4 172.3h0.01M430.7 181.0h0.01M434.9 176.1h0.01M419.1 169.6h0.01M433.3 145.6h0.01M434.1 155.8h0.01M420.3 172.8h0.01M425.7 153.9h0.01M403.8 132.4h0.01M431.6 158.7h0.01M433.2 147.4h0.01M433.7 166.6h0.01M407.5 176.2h0.01M419.6 187.8h0.01M421.1 167.0h0.01M422.8 169.3h0.01M433.8 125.0h0.01M423.3 136.7h0.01M407.9 106.0h0.01M415.6 122.2h0.01M409.5 191.8h0.01M422.9 175.5h0.01M409.5 181.1h0.01M435.2 173.3h0.01M407.6 177.3h0.01M432.8 172.8h0.01M435.1 158.9h0.01M432.9 166.7h0.01M435.3 185.1h0.01M413.2 92.8h0.01M436.1 172.6h0.01M371.5 177.6h0.01M431.2 77.7h0.01M359.9 180.4h0.01M422.6 159.4h0.01M415.4 131.6h0.01M408.0 188.2h0.01M423.6 182.3h0.01M404.2 176.9h0.01M431.7 149.6h0.01M391.4 174.2h0.01M412.6 165.0h0.01M432.8 129.0h0.01M427.3 158.1h0.01M412.8 185.0h0.01M425.5 137.2h0.01M417.4 119.3h0.01M417.7 190.5h0.01M434.8 93.9h0.01M425.8 140.1h0.01M418.8 185.9h0.01M433.9 156.4h0.01M394.0 154.2h0.01M435.9 191.9h0.01M424.4 173.0h0.01M431.7 155.6h0.01M429.6 192.1h0.01M437.0 184.9h0.01M355.3 176.8h0.01M429.7 129.5h0.01M413.2 169.4h0.01M423.7 182.4h0.01M431.7 175.8h0.01M428.5 188.3h0.01M418.4 161.7h0.01M437.0 191.2h0.01M417.4 183.7h0.01M421.5 136.6h0.01M424.2 140.7h0.01M436.5 177.9h0.01M435.9 165.4h0.01M417.5 158.4h0.01M427.1 185.1h0.01M420.8 187.2h0.01M376.4 181.2h0.01M421.3 191.7h0.01M399.7 144.5h0.01M409.6 190.3h0.01M429.8 167.4h0.01M413.4 186.7h0.01M354.6 190.5h0.01M404.0 188.8h0.01M425.3 135.5h0.01M410.1 188.9h0.01M436.2 192.0h0.01M431.4 91.3h0.01M427.4 160.4h0.01M437.0 156.6h0.01M432.3 140.3h0.01M427.4 180.7h0.01M380.4 139.5h0.01M427.6 183.4h0.01M417.0 181.6h0.01M432.7 181.5h0.01M420.8 184.6h0.01M425.8 108.9h0.01M437.1 170.4h0.01M429.8 138.4h0.01M431.7 179.9h0.01M415.5 183.7h0.01M436.0 141.8h0.01M427.4 167.0h0.01M432.7 170.2h0.01M413.1 152.0h0.01M384.7 183.8h0.01M364.3 143.9h0.01M397.2 134.2h0.01M377.2 157.2h0.01M401.4 117.4h0.01M432.1 186.1h0.01M429.3 171.0h0.01M434.0 90.2h0.01M433.9 76.8h0.01M436.0 179.4h0.01M432.2 181.4h0.01M382.5 182.1h0.01M432.2 178.2h0.01M427.1 160.4h0.01M395.7 178.5h0.01M406.5 138.0h0.01M432.1 181.0h0.01M405.5 101.0h0.01M423.8 187.4h0.01M433.6 101.2h0.01M435.8 79.4h0.01M412.0 177.8h0.01M430.8 103.7h0.01M419.8 151.1h0.01M416.4 187.1h0.01M431.3 112.8h0.01M434.9 176.8h0.01M426.6 161.9h0.01M422.4 178.9h0.01M405.3 169.9h0.01M433.5 187.2h0.01M427.3 166.9h0.01M430.3 119.7h0.01M437.6 174.6h0.01M422.8 166.9h0.01M410.0 167.4h0.01M388.1 187.5h0.01M432.3 130.8h0.01M399.3 162.1h0.01M380.9 111.1h0.01M435.4 173.8h0.01M407.9 168.9h0.01M397.4 148.5h0.01M382.6 188.9h0.01M393.8 188.7h0.01M437.0 150.2h0.01M437.1 143.5h0.01M435.3 84.8h0.01M420.4 139.5h0.01M437.3 145.8h0.01M363.1 162.4h0.01M435.2 158.0h0.01M421.6 169.4h0.01M406.2 186.5h0.01M432.6 116.2h0.01M382.0 185.2h0.01M421.3 173.1h0.01M428.5 177.4h0.01M431.3 134.2h0.01M422.5 90.3h0.01M365.9 172.1h0.01M435.1 182.8h0.01M428.9 156.6h0.01M425.8 151.6h0.01M418.1 156.6h0.01M423.6 163.5h0.01M400.6 184.0h0.01M436.6 119.1h0.01M410.0 169.5h0.01M434.5 180.4h0.01M437.5 158.9h0.01M362.0 183.6h0.01M430.8 159.9h0.01M418.9 127.3h0.01M422.5 169.8h0.01M431.0 131.8h0.01M420.1 154.2h0.01M426.6 116.3h0.01M417.7 189.6h0.01M428.3 162.4h0.01M433.2 190.7h0.01M424.1 118.4h0.01M418.5 144.2h0.01M433.5 138.3h0.01M429.4 186.3h0.01M412.1 115.5h0.01M424.3 186.0h0.01M375.0 189.9h0.01M424.1 88.3h0.01M428.9 180.2h0.01M398.8 184.5h0.01M428.9 139.4h0.01M417.3 137.0h0.01M430.0 190.5h0.01M413.3 170.5h0.01M389.6 140.0h0.01M421.7 175.1h0.01M430.0 126.9h0.01M432.8 155.3h0.01M411.5 192.2h0.01M417.5 183.8h0.01M425.6 108.6h0.01M435.5 108.9h0.01M362.6 122.8h0.01M432.7 172.9h0.01M403.9 183.0h0.01M430.5 124.5h0.01M423.3 101.3h0.01M425.9 160.4h0.01M431.0 164.0h0.01M417.5 108.4h0.01M406.4 183.8h0.01M433.2 151.2h0.01M427.9 163.5h0.01M414.8 169.1h0.01M417.4 187.6h0.01M421.0 150.8h0.01M398.5 191.0h0.01M430.2 158.2h0.01M419.3 187.0h0.01M419.0 88.3h0.01M429.1 137.7h0.01M390.6 185.4h0.01M436.5 136.9h0.01M416.9 191.7h0.01M424.5 189.8h0.01M430.4 154.3h0.01M385.6 175.2h0.01M349.2 189.1h0.01M402.6 180.9h0.01M396.4 161.8h0.01M405.4 175.6h0.01M417.2 158.7h0.01M432.1 192.1h0.01M433.7 131.2h0.01M434.9 136.0h0.01M387.5 168.7h0.01M400.8 183.2h0.01M436.8 182.5h0.01M430.5 160.3h0.01M423.3 183.7h0.01M388.2 175.5h0.01M431.3 185.7h0.01M386.1 179.6h0.01M423.6 113.5h0.01M435.9 175.3h0.01M437.0 154.0h0.01M401.4 133.2h0.01M425.2 121.9h0.01M422.2 145.9h0.01M435.2 191.2h0.01M435.3 168.3h0.01M410.1 158.9h0.01M386.3 182.3h0.01M434.9 180.1h0.01M415.4 106.8h0.01M435.1 156.5h0.01M406.9 171.2h0.01M437.8 90.2h0.01M397.4 181.7h0.01M431.9 72.6h0.01M395.6 178.8h0.01M424.7 108.9h0.01M433.4 82.4h0.01M437.0 180.6h0.01M353.6 144.3h0.01M411.4 117.7h0.01M430.9 173.4h0.01M433.2 161.5h0.01M417.7 177.2h0.01M434.2 153.9h0.01M433.3 147.0h0.01M364.0 173.1h0.01M430.2 80.3h0.01M433.6 147.8h0.01M425.0 158.5h0.01M417.5 99.3h0.01M408.3 186.2h0.01M437.5 84.3h0.01M410.0 174.2h0.01M424.8 172.6h0.01M404.4 162.7h0.01M420.5 144.0h0.01M437.0 110.3h0.01M431.6 155.7h0.01M431.6 188.3h0.01M399.6 144.1h0.01M426.1 187.8h0.01M431.3 144.2h0.01M431.0 158.2h0.01M415.3 189.2h0.01M421.6 190.5h0.01M428.6 155.5h0.01M434.5 132.8h0.01M435.0 171.7h0.01M434.0 145.6h0.01M429.5 148.5h0.01M422.0 77.5h0.01M430.4 154.2h0.01M420.2 151.6h0.01M433.8 138.3h0.01M430.9 190.8h0.01M395.7 188.9h0.01M412.8 189.4h0.01M432.5 118.9h0.01M435.7 103.9h0.01M403.0 185.8h0.01M435.0 189.2h0.01M428.5 181.2h0.01M426.9 161.1h0.01M423.2 176.1h0.01M433.5 181.4h0.01M386.3 177.5h0.01M428.3 174.1h0.01M429.1 112.2h0.01M431.9 184.7h0.01M418.1 186.8h0.01M422.8 163.7h0.01M396.7 184.0h0.01M432.1 160.1h0.01M433.4 183.5h0.01M423.8 123.3h0.01M428.0 185.6h0.01M413.2 131.4h0.01M429.5 118.3h0.01M391.5 131.9h0.01M386.5 168.8h0.01M402.5 178.2h0.01M408.0 117.2h0.01M409.9 183.8h0.01M419.4 166.7h0.01M379.2 183.7h0.01M345.6 187.9h0.01M429.5 148.6h0.01M396.2 176.6h0.01M433.5 98.0h0.01M423.3 184.6h0.01M419.7 186.0h0.01M432.5 162.3h0.01M384.4 177.2h0.01M394.6 171.4h0.01M433.8 187.8h0.01M394.1 169.8h0.01M399.9 179.2h0.01M410.1 191.5h0.01M434.5 163.2h0.01M428.3 118.4h0.01M413.1 154.4h0.01M426.6 181.6h0.01M412.3 179.8h0.01M431.9 101.1h0.01M434.2 189.0h0.01M430.1 109.2h0.01M432.8 136.0h0.01M431.2 165.0h0.01M431.4 182.9h0.01M425.7 156.4h0.01M413.9 155.4h0.01M427.9 120.4h0.01M429.7 137.5h0.01M424.8 169.9h0.01M416.4 188.2h0.01M424.2 136.6h0.01M427.8 124.5h0.01M436.5 179.5h0.01M401.3 99.5h0.01M430.9 185.7h0.01M414.2 174.1h0.01M425.9 166.2h0.01M429.7 124.4h0.01M423.6 179.9h0.01M419.8 190.1h0.01M431.2 184.3h0.01M432.7 175.6h0.01M426.8 163.7h0.01M432.1 177.1h0.01M436.0 156.7h0.01M348.6 178.0h0.01M408.5 186.8h0.01M386.9 187.6h0.01M420.7 132.4h0.01M414.2 160.8h0.01M408.2 116.3h0.01M418.9 183.2h0.01M392.8 175.3h0.01M423.2 147.2h0.01M397.8 183.8h0.01M424.6 101.7h0.01M415.7 184.0h0.01M436.1 146.0h0.01M425.1 170.5h0.01M425.6 156.1h0.01M436.9 167.9h0.01M435.4 124.5h0.01M430.5 119.2h0.01M411.5 157.9h0.01M438.1 135.3h0.01M414.8 177.8h0.01M429.3 138.6h0.01M396.6 177.2h0.01M404.2 183.5h0.01M433.1 181.7h0.01M401.6 186.8h0.01M401.8 180.4h0.01M425.5 132.3h0.01M412.1 187.0h0.01M436.4 178.9h0.01M396.7 139.5h0.01M426.2 186.6h0.01M364.5 118.3h0.01M411.0 144.1h0.01M436.9 170.5h0.01M429.9 191.7h0.01M430.8 179.7h0.01M421.2 175.0h0.01M436.8 81.3h0.01M372.0 189.1h0.01M404.2 150.8h0.01M432.5 101.7h0.01M406.8 172.2h0.01M431.2 179.6h0.01M434.0 168.6h0.01M428.1 159.7h0.01M421.9 120.5h0.01M390.6 178.2h0.01M437.0 163.0h0.01M401.7 137.4h0.01M420.7 164.7h0.01M415.5 183.3h0.01M429.0 151.5h0.01M389.7 141.1h0.01M407.2 172.4h0.01M405.6 174.0h0.01M438.0 183.5h0.01M436.7 138.1h0.01M432.6 177.3h0.01M416.6 184.0h0.01M393.4 175.6h0.01M414.1 164.4h0.01M364.3 184.2h0.01M423.4 161.7h0.01M436.1 178.7h0.01M436.8 103.1h0.01M431.9 135.4h0.01M383.5 107.3h0.01M421.8 158.2h0.01M408.2 125.2h0.01M388.0 124.2h0.01M432.7 191.8h0.01M382.1 170.8h0.01M434.7 145.7h0.01M391.2 144.2h0.01M421.7 180.3h0.01M435.7 188.5h0.01M430.7 141.3h0.01M410.6 124.2h0.01M407.2 147.0h0.01M412.3 114.9h0.01M425.7 114.4h0.01M374.4 179.2h0.01M392.7 167.5h0.01M426.9 131.6h0.01M432.0 189.1h0.01M421.6 162.4h0.01M435.6 153.2h0.01M421.4 191.2h0.01M433.2 83.0h0.01M429.3 169.6h0.01M420.9 179.8h0.01M436.8 145.1h0.01M419.0 74.5h0.01M430.3 186.9h0.01M383.9 184.5h0.01M414.8 146.9h0.01M416.4 163.9h0.01M417.1 162.8h0.01M433.3 179.3h0.01M424.4 157.0h0.01M420.7 183.5h0.01M423.2 183.7h0.01M404.4 174.0h0.01M427.0 182.7h0.01M435.1 188.8h0.01M425.2 164.9h0.01M367.5 108.7h0.01M426.9 98.0h0.01M428.8 184.5h0.01M436.3 174.4h0.01M412.4 104.1h0.01M424.1 175.4h0.01M431.6 132.3h0.01M398.8 161.3h0.01M425.1 192.1h0.01M413.7 184.8h0.01M414.4 180.0h0.01M418.2 168.8h0.01M403.9 137.6h0.01M412.7 136.8h0.01M420.7 157.6h0.01M431.8 146.8h0.01M426.4 144.1h0.01M419.2 177.6h0.01M433.8 156.4h0.01M419.1 187.4h0.01M400.9 146.2h0.01M380.4 182.1h0.01M437.2 165.0h0.01M429.9 182.2h0.01M429.5 181.9h0.01M428.5 162.7h0.01M407.0 87.7h0.01M412.5 147.7h0.01M433.2 172.5h0.01M429.4 150.9h0.01M400.1 189.5h0.01M409.2 187.5h0.01M414.6 186.3h0.01M436.9 182.7h0.01M424.3 118.9h0.01M392.4 185.8h0.01M429.5 151.6h0.01M427.2 169.8h0.01M418.0 148.8h0.01M421.2 184.9h0.01M418.0 149.8h0.01M427.5 137.3h0.01M429.4 149.9h0.01M409.2 173.9h0.01M419.3 178.2h0.01M425.8 156.9h0.01M437.4 115.8h0.01M357.8 184.9h0.01M429.3 182.5h0.01M419.9 98.8h0.01M430.5 128.5h0.01M428.6 175.1h0.01M430.6 145.6h0.01M404.7 159.7h0.01M419.6 171.1h0.01M435.4 141.3h0.01M424.8 190.7h0.01M417.4 156.7h0.01M431.9 125.5h0.01M432.3 162.3h0.01M425.7 189.0h0.01M434.2 180.8h0.01M382.1 183.9h0.01M427.2 107.1h0.01M436.7 180.7h0.01M436.1 182.6h0.01M419.6 162.4h0.01M432.1 141.2h0.01M415.1 150.8h0.01M420.6 181.1h0.01M419.4 129.0h0.01M418.8 158.6h0.01M402.7 170.4h0.01M433.3 141.9h0.01M421.4 149.5h0.01M437.7 175.2h0.01M430.9 184.7h0.01M429.7 186.2h0.01M418.1 186.6h0.01M379.9 142.7h0.01M432.7 150.3h0.01M410.2 165.7h0.01M435.5 186.7h0.01M428.0 126.0h0.01M397.5 191.3h0.01M412.2 174.1h0.01M403.8 191.9h0.01M405.8 113.4h0.01M435.6 156.1h0.01M427.2 150.4h0.01M425.7 184.6h0.01M393.5 167.5h0.01M431.2 180.9h0.01M429.8 130.8h0.01M426.6 147.9h0.01M403.6 146.1h0.01M424.6 172.8h0.01M429.0 80.6h0.01M389.5 189.3h0.01M433.7 171.6h0.01M431.7 144.4h0.01M422.7 164.5h0.01M426.3 189.7h0.01M437.2 173.6h0.01M402.8 183.8h0.01M432.8 179.0h0.01M422.3 166.0h0.01M422.1 149.4h0.01M434.2 90.8h0.01M416.5 184.8h0.01M430.5 177.5h0.01M411.9 157.3h0.01M404.9 181.5h0.01M414.1 143.4h0.01M415.7 169.6h0.01M434.4 122.5h0.01M435.1 183.1h0.01M424.0 161.9h0.01M425.5 165.6h0.01M392.8 171.4h0.01M416.9 113.8h0.01M396.6 171.0h0.01M433.1 159.3h0.01M427.7 176.5h0.01M437.6 188.6h0.01M435.1 169.4h0.01M400.1 135.4h0.01M436.4 130.9h0.01M437.4 169.2h0.01M402.3 179.6h0.01M427.9 180.2h0.01M437.5 183.8h0.01M431.0 182.2h0.01M427.8 139.7h0.01M432.0 136.4h0.01M395.0 138.1h0.01M391.5 161.7h0.01M433.5 175.6h0.01M414.4 106.1h0.01M433.7 152.0h0.01M410.7 173.9h0.01M417.1 188.9h0.01M436.7 190.4h0.01M367.3 142.7h0.01M418.8 116.4h0.01M396.4 169.3h0.01M409.9 164.9h0.01M421.7 168.3h0.01M431.7 146.5h0.01M435.6 168.3h0.01M426.6 160.4h0.01M427.4 168.8h0.01M433.0 77.4h0.01M437.6 150.5h0.01M401.7 160.3h0.01M352.0 190.1h0.01M422.1 171.2h0.01M431.3 175.1h0.01M434.5 174.0h0.01M409.1 164.3h0.01M389.9 149.7h0.01M434.9 71.4h0.01M431.5 82.0h0.01M425.1 172.7h0.01M436.4 156.5h0.01M428.6 162.6h0.01M431.6 127.0h0.01M433.1 174.5h0.01M399.6 124.4h0.01M419.8 181.0h0.01M437.2 174.8h0.01M420.9 87.8h0.01M437.2 155.2h0.01M411.8 155.5h0.01M400.0 170.1h0.01M435.1 189.1h0.01M436.3 179.6h0.01M424.4 186.8h0.01M425.1 181.9h0.01M407.3 113.4h0.01M434.8 160.4h0.01M435.7 191.0h0.01M420.1 155.9h0.01M405.9 187.8h0.01M428.7 72.5h0.01M377.6 186.7h0.01M424.9 183.1h0.01M423.1 177.1h0.01M434.7 181.2h0.01M416.2 143.9h0.01M402.3 150.7h0.01M437.1 184.4h0.01M432.0 144.3h0.01M417.0 158.6h0.01M428.3 149.5h0.01M407.2 177.0h0.01M435.8 178.9h0.01M429.5 137.6h0.01M428.5 120.4h0.01M425.2 139.0h0.01M410.3 122.5h0.01M400.2 173.4h0.01M433.1 151.3h0.01M388.7 189.2h0.01M399.5 159.6h0.01M429.0 117.3h0.01M391.1 178.1h0.01M420.5 169.7h0.01M422.1 133.6h0.01M436.0 162.8h0.01M426.9 184.7h0.01M386.2 176.0h0.01M425.0 176.5h0.01M415.9 164.5h0.01M419.4 159.6h0.01M400.5 175.4h0.01M432.0 178.9h0.01M429.4 188.3h0.01M417.1 144.2h0.01M408.7 173.0h0.01M394.8 187.2h0.01M432.9 189.0h0.01M424.9 175.6h0.01M437.0 106.3h0.01M414.3 172.3h0.01M418.7 170.1h0.01M436.7 176.6h0.01M433.5 191.8h0.01M417.3 182.1h0.01M428.4 159.7h0.01M405.6 166.8h0.01M424.4 144.9h0.01M420.3 172.4h0.01M427.0 131.8h0.01M431.6 135.1h0.01M429.3 137.4h0.01M435.9 162.4h0.01M398.4 181.1h0.01M420.8 178.0h0.01M404.2 81.0h0.01M376.2 186.5h0.01M436.1 163.9h0.01M415.5 147.0h0.01M430.2 176.5h0.01M416.5 171.2h0.01M432.0 176.2h0.01M435.8 85.3h0.01M432.3 152.0h0.01M434.9 122.2h0.01M396.1 188.5h0.01M429.5 192.2h0.01M434.6 167.3h0.01M431.5 146.1h0.01M437.4 180.8h0.01M412.6 179.8h0.01M429.9 177.2h0.01M436.7 167.2h0.01M435.3 177.7h0.01M424.7 146.1h0.01M429.2 141.9h0.01M432.6 151.9h0.01M429.0 157.5h0.01M433.8 176.7h0.01M431.0 155.4h0.01M400.6 190.3h0.01M404.0 116.4h0.01M369.4 182.4h0.01M400.3 119.6h0.01M385.9 174.0h0.01M436.9 188.2h0.01M369.2 178.0h0.01M409.8 172.6h0.01M421.2 122.9h0.01M423.8 115.5h0.01M432.3 162.9h0.01M425.3 163.8h0.01M339.7 188.8h0.01M428.5 166.9h0.01M389.3 133.5h0.01M432.7 84.8h0.01M359.8 176.2h0.01M402.7 182.3h0.01M426.4 189.6h0.01M431.8 168.7h0.01M433.3 179.1h0.01M433.1 182.2h0.01M431.1 107.9h0.01M437.3 188.2h0.01M436.9 79.9h0.01M437.7 131.2h0.01M404.9 180.4h0.01M415.8 109.2h0.01M421.5 150.7h0.01M422.4 183.5h0.01M368.7 172.0h0.01M435.5 117.2h0.01M426.7 169.5h0.01M431.7 186.7h0.01M393.0 183.9h0.01M413.6 153.8h0.01M436.0 191.8h0.01M358.6 166.3h0.01M414.3 173.4h0.01M422.9 170.6h0.01M381.8 181.7h0.01M434.8 170.0h0.01M407.5 168.0h0.01M403.6 189.0h0.01M435.6 85.0h0.01M431.7 192.1h0.01M434.5 188.5h0.01M419.4 191.7h0.01M417.3 138.1h0.01M396.4 90.2h0.01M416.7 134.5h0.01M437.3 132.8h0.01M424.1 100.8h0.01M427.1 150.5h0.01M429.6 173.8h0.01M387.5 110.2h0.01M405.3 105.3h0.01M435.3 161.5h0.01M410.4 169.5h0.01M422.5 177.2h0.01M432.7 187.1h0.01M404.0 184.2h0.01M412.8 116.1h0.01M396.4 176.7h0.01M437.6 117.4h0.01M402.8 172.7h0.01M420.3 175.2h0.01M414.7 86.0h0.01M411.3 151.9h0.01M413.3 181.4h0.01M413.8 113.7h0.01M430.2 177.8h0.01M424.9 102.7h0.01M433.3 170.6h0.01M424.2 99.8h0.01M436.9 182.3h0.01M432.5 191.5h0.01M432.3 158.9h0.01M437.2 191.5h0.01M433.7 176.3h0.01M434.7 154.2h0.01M432.1 134.9h0.01M409.4 179.2h0.01M390.6 180.0h0.01M432.7 153.0h0.01M423.7 170.8h0.01M425.9 163.1h0.01M398.4 137.2h0.01M403.7 178.1h0.01M417.2 164.4h0.01M422.0 142.2h0.01M436.5 178.4h0.01M404.5 158.1h0.01M430.2 135.1h0.01M426.9 155.0h0.01M431.2 188.3h0.01M415.8 176.6h0.01M414.5 160.1h0.01M423.4 146.1h0.01M414.1 175.5h0.01M428.1 133.3h0.01M426.6 113.5h0.01M424.3 144.8h0.01M430.1 86.9h0.01M380.2 187.9h0.01M437.8 191.2h0.01M421.0 133.3h0.01M422.4 181.4h0.01M436.7 153.7h0.01M388.5 188.8h0.01M430.9 91.5h0.01M430.4 189.8h0.01M428.6 173.1h0.01M430.8 116.5h0.01M430.8 178.8h0.01M436.3 188.6h0.01M426.5 167.5h0.01M431.6 106.5h0.01M384.0 186.9h0.01M437.1 173.3h0.01M435.2 173.0h0.01M405.1 179.0h0.01M407.4 154.9h0.01M435.1 123.9h0.01M432.9 163.0h0.01M427.5 77.8h0.01M397.0 165.3h0.01M371.5 182.5h0.01M416.4 133.4h0.01M350.2 177.1h0.01M397.5 185.3h0.01M384.4 189.8h0.01M435.6 171.0h0.01M401.5 162.3h0.01M422.1 108.3h0.01M434.8 84.1h0.01M428.2 160.0h0.01M430.5 187.4h0.01M431.9 170.4h0.01M432.9 180.8h0.01M393.9 183.8h0.01M408.8 186.2h0.01M419.0 178.0h0.01M394.1 75.9h0.01M400.3 173.6h0.01M419.4 164.6h0.01M380.9 190.7h0.01M419.9 169.5h0.01M436.7 106.0h0.01M418.2 192.1h0.01M428.0 167.0h0.01M390.6 146.5h0.01M410.3 177.9h0.01M434.7 192.2h0.01M437.3 152.1h0.01M437.3 137.5h0.01M420.8 184.8h0.01M428.5 166.3h0.01M376.9 153.6h0.01M426.7 128.9h0.01M404.7 99.0h0.01M430.0 132.5h0.01M387.6 167.4h0.01M407.4 127.0h0.01M381.0 178.5h0.01M435.8 165.0h0.01M414.5 108.1h0.01M422.1 160.4h0.01M385.9 166.5h0.01M432.5 117.6h0.01M357.7 184.0h0.01M417.0 188.9h0.01M428.2 144.2h0.01M428.1 183.4h0.01M436.5 182.3h0.01M417.8 162.0h0.01M429.9 155.6h0.01M401.0 191.7h0.01M417.1 158.7h0.01M435.4 186.2h0.01M423.5 142.4h0.01M424.4 170.3h0.01M411.0 189.4h0.01M433.3 120.5h0.01M414.5 177.3h0.01M431.9 71.3h0.01M431.9 165.2h0.01M433.8 176.0h0.01M394.2 143.0h0.01M386.2 182.4h0.01M435.4 182.9h0.01M422.9 171.2h0.01M430.7 182.1h0.01M423.8 185.4h0.01M434.5 179.9h0.01M389.6 188.7h0.01M437.9 182.2h0.01M402.7 191.3h0.01M433.7 146.8h0.01M417.1 180.8h0.01M434.0 157.1h0.01M398.2 171.9h0.01M417.7 173.0h0.01M429.9 166.1h0.01M429.2 174.1h0.01M434.9 182.6h0.01M430.2 124.3h0.01M416.0 178.9h0.01M422.2 162.7h0.01M397.7 177.1h0.01M436.4 138.5h0.01M413.9 170.9h0.01M425.5 187.1h0.01M395.1 165.2h0.01M387.3 189.1h0.01M419.9 182.6h0.01M423.2 86.0h0.01M423.8 181.9h0.01M432.1 182.6h0.01M434.9 178.5h0.01M420.2 74.9h0.01M436.4 84.1h0.01M420.6 176.5h0.01M407.9 191.1h0.01M403.7 180.4h0.01M411.3 188.4h0.01M435.1 135.1h0.01M436.9 191.7h0.01M424.5 175.7h0.01M422.2 171.5h0.01M435.5 109.8h0.01M387.5 184.0h0.01M432.5 156.8h0.01M401.1 182.5h0.01M377.1 103.7h0.01M396.5 184.9h0.01M394.8 127.8h0.01M396.2 190.6h0.01M405.0 148.2h0.01M398.5 163.9h0.01M430.0 135.1h0.01M385.8 171.1h0.01M436.7 166.5h0.01M430.8 90.2h0.01M409.5 167.3h0.01M428.7 186.2h0.01M368.1 185.6h0.01M395.1 160.1h0.01M435.2 186.1h0.01M435.2 171.8h0.01M437.1 149.8h0.01M435.0 82.5h0.01M431.8 191.2h0.01M422.5 141.4h0.01M416.2 127.0h0.01M437.3 168.5h0.01M423.9 174.0h0.01M428.1 156.3h0.01M434.0 120.2h0.01M396.1 77.7h0.01M434.2 166.4h0.01M415.6 183.3h0.01M430.6 119.5h0.01M418.0 119.2h0.01M434.5 187.3h0.01M389.2 165.6h0.01M421.5 190.3h0.01M410.0 129.9h0.01M417.2 187.7h0.01M412.4 185.9h0.01M416.5 183.5h0.01M429.2 190.1h0.01M412.9 169.8h0.01M422.7 180.5h0.01M429.1 177.5h0.01M430.8 122.6h0.01M428.6 186.1h0.01M433.6 182.2h0.01M420.3 127.1h0.01M429.2 177.5h0.01M435.2 165.9h0.01M436.8 170.9h0.01M432.8 170.5h0.01M431.3 156.3h0.01M431.4 177.0h0.01M430.3 169.1h0.01M403.5 89.2h0.01M428.1 90.1h0.01M413.9 169.7h0.01M407.7 144.7h0.01M400.8 175.8h0.01M433.1 181.9h0.01M432.8 181.3h0.01M428.3 185.2h0.01M437.8 189.4h0.01M406.3 173.5h0.01M437.2 191.7h0.01M423.0 190.2h0.01M428.6 152.2h0.01M419.7 182.9h0.01M372.1 162.8h0.01M431.1 110.0h0.01M432.4 145.5h0.01M419.8 185.1h0.01M436.6 185.1h0.01M403.3 184.1h0.01M390.4 183.8h0.01M384.2 180.4h0.01M352.5 176.6h0.01M422.5 131.2h0.01M429.2 172.6h0.01M425.4 171.0h0.01M435.8 175.6h0.01M433.5 114.4h0.01M435.9 97.4h0.01M432.5 178.2h0.01M428.9 106.6h0.01M437.8 186.9h0.01M430.9 140.0h0.01M416.7 136.1h0.01M434.7 95.4h0.01M430.2 154.1h0.01M425.7 178.1h0.01M422.7 128.6h0.01M430.1 114.5h0.01M437.1 83.0h0.01M419.0 188.0h0.01M420.6 190.8h0.01M393.2 149.3h0.01M426.9 189.8h0.01M390.1 185.3h0.01M432.3 175.0h0.01M435.8 128.5h0.01M436.2 178.6h0.01M419.1 153.0h0.01M387.5 145.2h0.01M393.9 147.5h0.01M430.5 137.8h0.01M437.3 114.6h0.01M432.3 121.8h0.01M414.6 175.7h0.01M425.0 189.8h0.01M353.0 171.6h0.01M434.0 165.0h0.01M399.9 166.9h0.01M392.1 180.4h0.01M419.3 91.6h0.01M428.8 159.0h0.01M431.7 77.7h0.01M436.3 190.4h0.01M377.0 171.0h0.01M426.2 107.2h0.01M437.4 177.3h0.01M433.3 151.0h0.01M387.6 167.5h0.01M418.7 170.3h0.01M433.4 172.8h0.01M418.9 191.3h0.01M403.3 186.3h0.01M367.2 164.6h0.01M417.6 162.2h0.01M403.6 188.3h0.01M429.7 180.7h0.01M428.5 88.8h0.01M415.7 189.6h0.01M435.4 115.5h0.01M432.7 115.3h0.01M426.0 147.2h0.01M433.6 108.8h0.01M417.0 191.9h0.01M407.6 172.7h0.01M426.7 173.9h0.01M436.8 176.9h0.01M418.5 158.4h0.01M408.2 178.6h0.01M432.8 180.5h0.01M410.7 183.2h0.01M431.8 168.5h0.01M383.7 147.3h0.01M375.8 146.9h0.01M435.3 105.2h0.01M431.5 187.7h0.01M401.9 192.1h0.01M407.4 174.7h0.01M435.1 116.5h0.01M427.9 112.6h0.01M390.1 120.0h0.01M429.7 171.5h0.01M396.5 160.8h0.01M430.9 160.8h0.01M418.5 190.2h0.01M396.0 157.5h0.01M367.2 179.7h0.01M420.9 183.8h0.01M431.2 180.2h0.01M428.1 160.7h0.01M414.6 185.5h0.01M435.0 183.7h0.01M427.5 141.3h0.01M403.9 129.5h0.01M426.1 169.2h0.01M431.7 178.7h0.01M426.1 86.3h0.01M400.9 190.1h0.01M430.3 178.6h0.01M420.0 97.5h0.01M429.1 158.2h0.01M416.1 190.0h0.01M422.1 176.4h0.01M417.7 179.7h0.01M403.6 138.0h0.01M436.6 115.0h0.01M395.4 140.7h0.01M414.1 148.3h0.01M404.7 138.5h0.01M425.0 177.3h0.01M425.4 184.4h0.01M432.2 190.1h0.01M435.0 101.0h0.01M426.2 152.9h0.01M429.6 188.5h0.01M417.1 98.9h0.01M390.7 188.6h0.01M395.6 113.5h0.01M402.3 166.1h0.01M431.9 121.6h0.01M437.6 112.3h0.01M429.6 127.1h0.01M432.9 143.4h0.01M413.1 175.2h0.01M436.4 165.2h0.01M413.8 184.6h0.01M436.7 168.5h0.01M432.9 188.2h0.01M417.1 184.9h0.01M369.7 169.6h0.01M428.8 176.7h0.01M431.4 149.3h0.01M428.0 173.6h0.01M437.2 138.9h0.01M425.0 182.3h0.01M403.3 130.3h0.01M437.3 179.3h0.01M430.9 108.6h0.01M428.2 175.3h0.01M422.8 179.4h0.01M434.5 189.8h0.01M415.3 167.7h0.01M417.0 172.4h0.01M421.0 162.5h0.01M412.5 147.9h0.01M432.9 150.3h0.01M419.4 176.7h0.01M359.1 181.0h0.01M436.2 179.4h0.01M422.5 93.3h0.01M435.3 146.2h0.01M418.0 172.7h0.01M413.0 154.0h0.01M429.4 154.3h0.01M367.0 167.8h0.01M436.2 190.5h0.01M402.2 188.4h0.01M426.0 175.8h0.01M426.3 162.2h0.01M425.4 158.7h0.01M430.0 171.9h0.01M433.1 168.7h0.01M427.5 184.8h0.01M430.8 164.5h0.01M436.9 168.5h0.01M432.6 153.4h0.01M433.1 187.6h0.01M434.6 185.7h0.01M421.2 186.2h0.01M435.5 177.7h0.01M407.8 179.4h0.01M422.8 184.0h0.01M411.3 189.6h0.01M411.9 165.2h0.01M399.7 173.3h0.01M432.4 182.0h0.01M404.4 127.5h0.01M435.8 157.6h0.01M422.0 148.0h0.01M424.2 170.1h0.01M373.4 179.2h0.01M433.7 157.7h0.01M434.0 190.5h0.01M424.4 190.9h0.01M435.5 159.4h0.01M400.4 176.9h0.01M406.1 157.4h0.01M396.0 143.4h0.01M416.8 146.3h0.01M433.9 105.4h0.01M432.9 160.3h0.01M429.7 98.0h0.01M388.1 155.3h0.01M435.2 180.2h0.01M398.0 151.3h0.01M416.5 92.8h0.01M401.4 191.6h0.01M428.5 186.5h0.01M423.6 177.5h0.01M428.9 144.1h0.01M421.7 161.5h0.01M434.1 152.1h0.01M425.7 129.7h0.01M393.7 168.8h0.01M410.7 177.3h0.01M429.9 123.2h0.01M436.7 182.1h0.01M387.7 181.8h0.01M394.3 176.1h0.01M436.7 176.8h0.01M430.7 187.1h0.01M433.8 160.3h0.01M434.9 186.1h0.01M384.6 192.2h0.01M413.4 191.6h0.01M422.0 187.3h0.01M420.1 189.1h0.01M422.5 175.8h0.01M420.5 156.0h0.01M431.3 168.3h0.01M416.6 89.2h0.01M431.5 143.1h0.01M435.6 75.5h0.01M406.0 159.3h0.01M435.8 129.1h0.01M391.0 174.3h0.01M434.4 182.7h0.01M437.3 111.6h0.01M423.6 187.6h0.01M433.2 173.2h0.01M374.2 185.8h0.01M426.8 175.7h0.01M417.4 179.7h0.01M423.6 157.7h0.01M414.8 179.1h0.01M421.9 140.3h0.01M407.5 170.8h0.01M399.5 160.1h0.01M412.4 166.7h0.01M416.7 176.9h0.01M433.4 155.1h0.01M413.3 175.9h0.01M422.5 148.0h0.01M437.1 182.0h0.01M411.9 170.5h0.01M403.7 135.2h0.01M430.0 189.6h0.01M385.8 129.8h0.01M368.1 159.7h0.01M423.5 180.6h0.01M428.1 112.5h0.01M425.6 189.4h0.01M432.4 190.6h0.01M433.0 191.5h0.01M421.6 184.2h0.01M412.5 163.3h0.01M421.6 163.2h0.01M436.4 166.9h0.01M409.7 175.6h0.01M430.1 98.2h0.01M430.6 163.6h0.01M419.9 179.4h0.01M420.1 164.5h0.01M427.0 153.5h0.01M436.6 129.7h0.01M416.9 188.8h0.01M434.5 169.8h0.01M426.9 181.9h0.01M431.6 183.2h0.01M432.9 155.4h0.01M429.9 189.7h0.01M430.6 157.3h0.01M432.3 132.7h0.01M391.5 137.2h0.01M417.4 152.9h0.01M434.8 105.3h0.01M420.7 187.0h0.01M437.8 152.3h0.01M432.4 190.0h0.01M398.5 191.3h0.01M426.4 151.9h0.01M415.1 177.4h0.01M419.9 184.2h0.01M408.2 182.0h0.01M432.9 175.7h0.01M428.7 190.6h0.01M432.4 164.8h0.01M420.4 167.5h0.01M408.6 185.2h0.01M431.2 128.7h0.01M413.5 181.2h0.01M399.6 178.4h0.01M415.2 192.1h0.01M397.6 189.4h0.01M436.1 85.1h0.01M428.7 159.1h0.01M424.9 174.3h0.01M425.7 169.6h0.01M432.3 147.5h0.01M414.3 120.4h0.01M430.1 90.8h0.01M430.4 131.7h0.01M419.4 166.5h0.01M430.3 140.6h0.01M407.6 163.3h0.01M421.3 113.8h0.01M416.9 161.9h0.01M433.0 99.8h0.01M425.0 183.0h0.01M431.3 86.5h0.01M436.2 159.5h0.01M401.5 111.5h0.01M401.8 161.6h0.01M437.1 117.0h0.01M434.3 175.9h0.01M428.8 189.0h0.01M429.0 172.4h0.01M434.1 164.8h0.01M437.3 176.5h0.01M434.3 102.1h0.01M424.4 174.4h0.01M422.8 169.7h0.01M423.2 189.4h0.01M420.6 165.7h0.01M376.7 178.7h0.01M421.7 134.0h0.01M413.6 190.0h0.01M411.1 177.0h0.01M436.1 104.9h0.01M434.2 167.4h0.01M431.6 148.5h0.01M400.8 145.3h0.01M431.4 154.4h0.01M409.3 132.8h0.01M422.5 182.1h0.01M434.5 154.4h0.01M434.4 161.1h0.01M425.5 161.9h0.01M416.0 160.8h0.01M428.5 156.1h0.01M431.7 164.6h0.01M437.7 120.1h0.01M424.9 138.6h0.01M427.9 181.0h0.01M423.8 153.6h0.01M434.2 171.1h0.01M437.8 146.9h0.01M422.8 191.5h0.01M431.4 162.5h0.01M381.2 190.5h0.01M419.9 112.9h0.01M420.7 154.2h0.01M403.7 168.2h0.01M434.0 191.0h0.01M434.2 176.9h0.01M421.9 73.6h0.01M397.2 190.1h0.01M427.7 138.5h0.01M410.9 191.6h0.01M391.3 169.1h0.01M424.6 177.0h0.01M437.9 164.2h0.01M427.4 186.0h0.01M430.9 176.2h0.01M367.0 180.4h0.01M421.6 155.1h0.01M390.0 178.6h0.01M427.8 115.2h0.01M435.1 129.9h0.01M430.1 98.0h0.01M434.3 167.9h0.01M437.5 157.8h0.01M400.6 177.5h0.01M415.0 169.7h0.01M433.0 167.0h0.01M390.0 128.3h0.01M437.0 130.1h0.01M427.0 174.6h0.01M437.8 148.3h0.01M403.8 190.0h0.01M409.0 149.6h0.01M433.6 96.8h0.01M421.7 166.8h0.01M427.3 191.5h0.01M415.5 108.1h0.01M395.6 152.5h0.01M424.7 150.7h0.01M435.5 176.4h0.01M424.3 183.1h0.01M426.3 182.1h0.01M436.7 174.6h0.01M401.0 175.9h0.01M421.3 176.6h0.01M436.4 186.9h0.01M373.0 181.1h0.01M435.9 162.8h0.01M415.9 191.5h0.01M429.8 142.1h0.01M420.8 111.7h0.01M429.1 90.6h0.01M436.4 106.6h0.01M393.5 174.5h0.01M342.8 161.5h0.01M426.3 152.2h0.01M420.7 109.6h0.01M367.6 171.9h0.01M370.3 179.0h0.01M427.1 184.6h0.01M414.3 153.5h0.01M436.2 172.5h0.01M422.1 91.0h0.01M427.0 158.0h0.01M428.5 183.3h0.01M428.9 175.3h0.01M403.9 171.5h0.01M426.4 104.1h0.01M412.1 169.1h0.01M375.1 144.5h0.01M402.9 147.1h0.01M427.3 160.5h0.01M436.9 173.0h0.01M425.9 188.2h0.01M418.6 181.9h0.01M425.0 178.9h0.01M422.6 109.6h0.01M434.8 169.2h0.01M434.0 135.0h0.01M416.9 166.4h0.01M406.6 184.8h0.01M432.4 165.5h0.01M437.3 168.5h0.01M404.3 186.3h0.01M421.4 168.8h0.01M343.0 159.6h0.01M380.2 155.6h0.01M401.6 109.5h0.01M429.8 190.4h0.01M433.2 164.3h0.01M395.4 189.0h0.01M424.8 163.9h0.01M418.6 164.9h0.01M426.5 182.1h0.01M421.9 153.7h0.01M418.1 152.6h0.01M435.6 171.3h0.01M424.2 95.8h0.01M419.8 177.5h0.01M418.3 165.5h0.01M418.9 182.6h0.01M421.1 179.4h0.01M429.5 187.5h0.01M424.2 174.2h0.01M418.3 156.7h0.01M423.4 106.9h0.01M430.1 100.4h0.01M413.0 188.9h0.01M436.7 89.7h0.01M410.3 137.1h0.01M376.8 181.8h0.01M410.3 120.6h0.01M414.3 164.7h0.01M389.5 138.5h0.01M410.9 152.0h0.01M393.8 186.4h0.01M418.3 181.7h0.01M426.8 181.2h0.01M388.1 133.2h0.01M428.4 177.4h0.01M427.7 161.5h0.01M413.8 171.2h0.01M422.7 171.2h0.01M413.6 183.7h0.01M424.2 178.1h0.01M391.2 173.2h0.01M415.8 128.6h0.01M408.2 179.4h0.01M397.2 156.2h0.01M415.5 177.9h0.01M396.8 187.0h0.01M435.7 178.8h0.01M403.7 179.7h0.01M427.6 186.5h0.01M406.6 154.3h0.01M381.0 161.8h0.01M414.3 142.6h0.01M415.2 106.7h0.01M435.1 183.2h0.01M422.4 159.5h0.01M432.4 191.8h0.01M399.4 106.2h0.01M420.0 154.4h0.01M370.7 186.7h0.01M401.8 175.0h0.01M402.7 127.5h0.01M341.7 180.2h0.01M373.3 155.0h0.01M394.6 171.6h0.01M434.2 176.7h0.01M399.2 165.9h0.01M362.4 171.0h0.01M433.4 181.2h0.01M436.2 86.8h0.01M424.2 177.6h0.01M403.8 164.1h0.01M430.8 124.7h0.01M425.4 174.1h0.01M431.6 116.5h0.01M435.9 151.1h0.01M423.4 119.6h0.01M432.9 119.0h0.01M436.5 111.4h0.01M433.2 129.6h0.01M437.3 103.5h0.01M428.7 144.4h0.01M422.4 171.4h0.01M435.6 140.8h0.01M419.2 188.7h0.01M382.2 180.3h0.01M436.7 94.2h0.01M426.7 157.0h0.01M436.5 124.9h0.01M413.4 108.3h0.01M423.3 171.8h0.01M419.9 180.3h0.01M410.4 192.2h0.01M435.8 144.6h0.01M415.7 189.7h0.01M437.0 168.5h0.01M434.7 133.5h0.01M433.6 92.6h0.01M426.7 192.0h0.01M423.1 84.7h0.01M435.0 139.8h0.01M399.0 171.6h0.01M430.0 178.4h0.01M411.0 173.0h0.01M430.1 181.4h0.01M432.8 189.2h0.01M436.8 183.7h0.01M431.2 153.9h0.01M421.9 178.2h0.01M383.1 152.9h0.01M435.7 188.9h0.01M420.0 174.2h0.01M424.1 116.5h0.01M432.2 169.2h0.01M435.0 175.2h0.01M357.8 181.2h0.01M432.1 137.2h0.01M421.1 169.9h0.01M436.8 185.0h0.01M437.1 117.0h0.01M379.1 184.4h0.01M429.8 99.8h0.01M425.0 191.8h0.01M429.7 88.2h0.01M416.1 169.1h0.01M416.2 187.1h0.01M433.0 171.3h0.01M368.3 171.1h0.01M422.2 181.6h0.01M435.7 118.6h0.01M428.5 190.1h0.01M434.7 184.3h0.01M403.6 182.9h0.01M432.8 185.2h0.01M431.9 188.6h0.01M390.2 169.5h0.01M407.1 190.3h0.01M433.6 163.3h0.01M432.7 133.6h0.01M348.0 187.1h0.01M432.5 172.1h0.01M431.8 156.1h0.01M433.0 149.4h0.01M419.2 173.4h0.01M437.6 177.9h0.01M435.9 188.2h0.01M434.0 152.3h0.01M434.8 174.2h0.01M372.4 191.5h0.01M399.7 163.3h0.01M409.8 167.5h0.01M404.3 176.7h0.01M434.1 158.6h0.01M419.7 184.5h0.01M430.1 147.3h0.01M427.2 156.4h0.01M437.6 153.0h0.01M377.9 191.5h0.01M428.1 158.7h0.01M429.4 178.1h0.01M420.8 180.7h0.01M436.5 120.3h0.01M430.5 185.2h0.01M435.9 177.7h0.01M429.0 190.1h0.01M426.1 190.2h0.01M422.8 192.1h0.01M411.9 157.3h0.01M389.6 162.0h0.01M410.9 143.9h0.01M434.0 157.4h0.01M385.2 181.5h0.01M421.9 115.6h0.01M422.7 182.9h0.01M412.0 145.8h0.01M415.8 170.3h0.01M429.1 170.3h0.01M367.0 188.7h0.01M430.9 120.0h0.01M420.5 190.6h0.01M404.7 174.3h0.01M406.9 189.8h0.01M411.9 118.3h0.01M436.5 165.6h0.01M429.3 130.2h0.01M427.7 146.2h0.01M377.5 179.1h0.01M416.8 139.1h0.01M422.1 172.2h0.01M432.9 157.3h0.01M431.9 139.3h0.01M419.1 135.4h0.01M410.2 188.3h0.01M433.3 187.4h0.01M402.1 168.4h0.01M425.3 104.8h0.01M423.4 146.6h0.01M428.2 191.0h0.01M435.3 109.3h0.01M427.3 188.2h0.01M427.3 186.2h0.01M427.4 164.9h0.01M424.7 168.6h0.01M437.1 187.5h0.01M413.2 153.6h0.01M434.4 189.8h0.01M428.6 164.0h0.01M355.9 182.4h0.01M404.3 181.9h0.01M434.0 179.6h0.01M426.1 163.8h0.01M418.2 176.2h0.01M419.2 135.5h0.01M402.8 151.4h0.01M415.5 183.1h0.01M426.7 146.8h0.01M403.3 158.3h0.01M423.8 156.5h0.01M396.9 183.9h0.01M430.2 169.9h0.01M405.0 189.5h0.01M432.1 189.9h0.01M426.2 184.8h0.01M425.4 160.0h0.01M418.8 177.9h0.01M425.4 165.6h0.01M418.2 159.7h0.01M426.3 175.3h0.01M412.4 190.2h0.01M382.3 182.9h0.01M429.4 120.6h0.01M419.8 180.8h0.01M423.0 178.2h0.01M403.7 191.5h0.01M412.2 162.2h0.01M411.5 123.7h0.01M406.5 181.7h0.01M436.5 164.5h0.01M421.1 177.3h0.01M413.3 181.0h0.01M393.6 174.2h0.01M433.3 134.7h0.01M429.3 169.1h0.01M403.0 174.0h0.01M428.6 189.6h0.01M437.5 186.7h0.01M412.4 165.4h0.01M389.1 191.0h0.01M428.7 121.5h0.01M436.9 87.8h0.01M429.3 187.4h0.01M427.4 109.4h0.01M387.4 164.3h0.01M430.3 189.7h0.01M426.1 190.0h0.01M404.3 180.4h0.01M420.9 180.2h0.01M420.0 185.2h0.01M424.2 122.3h0.01M435.2 143.3h0.01M420.1 165.8h0.01M426.6 158.6h0.01M434.3 115.2h0.01M437.4 174.4h0.01M431.5 160.1h0.01M367.8 179.3h0.01M422.8 120.1h0.01M429.8 99.0h0.01M423.9 107.7h0.01M425.0 172.2h0.01M399.0 154.6h0.01M346.7 183.8h0.01M392.3 185.6h0.01M371.5 123.6h0.01M378.1 189.9h0.01M436.0 149.7h0.01M424.5 188.8h0.01M428.5 185.2h0.01M410.1 185.9h0.01M373.5 186.2h0.01M413.6 192.0h0.01M368.6 160.1h0.01M402.4 160.3h0.01M430.7 155.3h0.01M432.6 190.4h0.01M411.2 188.6h0.01M417.6 151.6h0.01M435.3 87.6h0.01M436.6 177.9h0.01M426.2 182.6h0.01M427.7 143.4h0.01M434.3 86.7h0.01M374.2 181.3h0.01M375.0 174.5h0.01M425.1 190.6h0.01M428.5 183.5h0.01M409.2 176.0h0.01M398.8 158.9h0.01M430.5 188.2h0.01M407.9 179.2h0.01M436.8 168.8h0.01M431.8 77.5h0.01M425.1 161.2h0.01M424.5 189.4h0.01M373.7 188.1h0.01M383.0 169.2h0.01M431.1 186.2h0.01M419.6 176.0h0.01M436.9 151.5h0.01M429.5 169.4h0.01M420.7 152.9h0.01M437.4 189.1h0.01M418.2 82.7h0.01M422.2 135.3h0.01M402.6 189.0h0.01M428.0 152.0h0.01M421.1 182.7h0.01M424.4 161.7h0.01M381.7 188.8h0.01M430.4 171.7h0.01M437.8 189.6h0.01M412.7 186.6h0.01M433.7 110.5h0.01M408.4 145.1h0.01M413.6 95.9h0.01M414.3 165.2h0.01M429.9 167.9h0.01M435.1 183.6h0.01M393.1 186.4h0.01M430.3 155.7h0.01M424.7 184.1h0.01M423.4 162.6h0.01M394.6 177.5h0.01M406.4 151.7h0.01M431.9 176.3h0.01M434.1 151.6h0.01M437.2 127.1h0.01M433.5 155.4h0.01M414.2 176.2h0.01M427.2 186.5h0.01M384.1 143.7h0.01M423.9 183.5h0.01M413.2 171.1h0.01M433.4 187.0h0.01M409.7 152.2h0.01M374.3 109.1h0.01M340.8 174.0h0.01M408.3 131.2h0.01M419.8 129.4h0.01M419.2 174.6h0.01M425.2 178.7h0.01M427.9 127.6h0.01M416.1 136.6h0.01M437.5 150.0h0.01M426.2 81.2h0.01M436.8 108.3h0.01M437.4 182.9h0.01M437.8 118.4h0.01M417.6 74.7h0.01M411.7 121.4h0.01M435.0 100.6h0.01M391.4 173.5h0.01M422.3 177.9h0.01M353.1 164.2h0.01M434.2 174.4h0.01M431.7 111.8h0.01M437.6 166.4h0.01M382.4 155.2h0.01M406.9 155.1h0.01M400.6 171.9h0.01M410.7 147.3h0.01M414.8 156.9h0.01M435.6 144.3h0.01M437.3 173.1h0.01M429.2 135.2h0.01M436.4 168.5h0.01M407.8 169.3h0.01M394.5 191.2h0.01M432.8 191.4h0.01M429.4 177.1h0.01M422.0 107.1h0.01M347.1 172.2h0.01M414.8 157.1h0.01M388.6 190.7h0.01M431.5 168.4h0.01M422.1 185.5h0.01M425.7 172.6h0.01M415.7 155.4h0.01M368.4 180.1h0.01M381.0 183.1h0.01M425.0 138.8h0.01M427.9 173.5h0.01M437.3 172.1h0.01M424.6 146.1h0.01M433.4 135.5h0.01M426.6 160.4h0.01M436.6 152.6h0.01M416.2 119.2h0.01M384.8 179.9h0.01M401.4 174.7h0.01M415.5 182.7h0.01M409.6 135.8h0.01M385.7 134.3h0.01M428.1 178.3h0.01M422.8 173.7h0.01M418.9 160.5h0.01M409.9 131.3h0.01M429.3 189.2h0.01M434.6 132.9h0.01M405.0 139.0h0.01M423.1 135.0h0.01M405.5 190.3h0.01M433.3 125.7h0.01M425.0 159.2h0.01M435.9 166.3h0.01M410.0 106.2h0.01M392.4 148.1h0.01M418.7 176.7h0.01M408.8 149.0h0.01M359.3 118.7h0.01M435.6 148.3h0.01M426.5 190.2h0.01M427.4 151.2h0.01M423.4 128.4h0.01M417.7 117.8h0.01M407.5 170.6h0.01M411.3 182.2h0.01M437.3 178.7h0.01M437.0 136.2h0.01" stroke="#d8687f" stroke-opacity="0.13" stroke-width="1.0" stroke-linecap="round" fill="none"/>
<path d="M436.8 173.1h0.01M436.9 85.0h0.01M434.0 164.0h0.01M434.9 160.1h0.01M434.8 79.9h0.01M437.1 150.4h0.01M437.2 129.1h0.01M437.3 105.9h0.01M434.2 189.2h0.01M435.6 192.0h0.01M437.8 191.3h0.01M436.5 105.1h0.01M437.7 94.0h0.01M436.6 187.1h0.01M435.7 114.6h0.01M436.5 166.7h0.01M434.7 93.6h0.01M437.6 145.8h0.01M434.1 96.0h0.01M437.6 79.6h0.01M435.7 91.7h0.01M436.9 72.3h0.01M435.2 186.1h0.01M436.3 192.0h0.01M435.4 151.2h0.01M437.2 153.6h0.01M434.4 185.6h0.01M436.6 180.8h0.01M434.8 187.8h0.01M434.0 140.4h0.01M433.8 183.7h0.01M436.9 184.9h0.01M435.2 191.4h0.01M437.7 106.2h0.01M434.9 100.2h0.01M435.8 184.7h0.01M437.3 112.4h0.01M437.5 186.5h0.01M434.9 103.9h0.01M437.3 186.8h0.01M434.0 185.7h0.01M435.6 86.0h0.01M437.7 188.9h0.01M436.2 187.2h0.01M433.9 162.3h0.01M434.3 133.3h0.01M437.2 185.5h0.01M436.3 167.2h0.01M434.2 183.8h0.01M437.1 179.4h0.01M435.2 133.5h0.01M436.0 188.2h0.01M435.8 154.6h0.01M434.9 177.5h0.01M437.1 107.8h0.01M437.8 89.5h0.01M435.1 118.7h0.01M436.6 182.7h0.01M437.1 148.3h0.01M437.6 87.1h0.01M434.5 175.5h0.01M434.9 103.1h0.01M434.5 81.9h0.01M437.8 108.3h0.01M434.7 84.9h0.01M435.5 188.0h0.01M435.8 150.2h0.01M437.3 188.7h0.01M434.9 138.1h0.01M437.6 171.6h0.01M437.0 73.7h0.01M435.7 183.4h0.01M437.2 94.6h0.01M436.1 154.0h0.01M436.2 187.6h0.01M437.8 159.4h0.01M437.4 96.5h0.01M436.5 176.6h0.01M434.3 140.0h0.01M434.9 121.8h0.01M435.5 113.7h0.01M436.9 157.9h0.01M437.2 106.3h0.01M436.8 173.7h0.01M435.6 191.9h0.01M437.8 99.2h0.01M437.5 148.8h0.01M436.8 166.4h0.01M437.3 143.0h0.01M437.8 185.3h0.01M434.9 129.9h0.01M436.1 184.1h0.01M437.8 190.2h0.01M434.1 78.5h0.01M436.9 138.1h0.01M436.7 109.0h0.01M436.7 101.5h0.01M437.8 117.8h0.01M436.9 76.6h0.01M437.4 190.2h0.01M436.0 164.5h0.01M437.5 189.4h0.01M436.8 118.7h0.01M436.1 136.4h0.01M437.5 148.3h0.01M437.8 192.2h0.01M437.8 190.7h0.01M434.6 86.9h0.01M436.2 180.5h0.01M436.8 119.9h0.01M435.9 165.5h0.01M435.7 158.7h0.01M434.1 188.3h0.01M435.2 191.7h0.01M434.3 110.3h0.01M434.3 188.4h0.01M435.4 180.6h0.01M436.6 134.6h0.01M436.8 78.5h0.01M437.7 175.4h0.01M437.6 90.0h0.01M435.9 142.6h0.01M436.5 179.7h0.01M437.8 172.1h0.01M436.9 168.9h0.01M435.7 185.4h0.01M437.4 190.3h0.01M435.0 73.3h0.01M437.5 184.5h0.01M437.5 173.7h0.01M436.2 92.6h0.01M437.5 182.6h0.01M434.4 190.3h0.01M434.3 81.5h0.01M435.0 187.8h0.01M436.2 118.4h0.01M436.4 184.4h0.01M435.8 125.3h0.01M435.6 188.1h0.01M437.7 180.6h0.01M435.4 162.5h0.01M433.9 183.3h0.01M434.8 191.9h0.01M437.4 191.8h0.01M435.4 83.1h0.01M437.0 182.2h0.01M437.6 186.3h0.01M437.0 190.0h0.01M436.0 171.7h0.01M437.7 131.6h0.01M436.7 173.3h0.01M434.6 180.9h0.01M434.9 189.8h0.01M434.1 191.1h0.01M434.6 73.5h0.01M437.0 152.8h0.01M435.8 106.0h0.01M437.2 132.8h0.01M436.7 192.2h0.01M435.6 91.9h0.01M436.6 172.3h0.01M436.2 77.6h0.01M435.8 112.7h0.01M435.1 192.2h0.01M435.7 75.8h0.01M435.8 186.7h0.01M436.1 77.2h0.01M436.8 183.1h0.01M434.1 127.9h0.01M437.0 172.1h0.01M437.7 190.9h0.01M434.8 120.4h0.01M435.6 75.8h0.01M437.0 82.3h0.01M435.4 192.2h0.01M436.5 123.4h0.01M436.3 181.8h0.01M434.0 167.4h0.01M437.0 155.5h0.01M437.1 178.0h0.01M435.6 192.2h0.01M437.6 188.2h0.01M437.1 166.7h0.01M437.7 95.7h0.01M437.7 191.3h0.01M435.4 176.8h0.01M437.3 152.3h0.01M437.8 185.7h0.01M436.4 77.6h0.01M436.7 126.5h0.01M435.8 191.6h0.01M435.9 114.6h0.01M434.3 151.5h0.01M436.3 143.8h0.01M434.6 108.8h0.01M434.5 76.7h0.01M436.8 89.0h0.01M435.8 86.8h0.01M435.6 139.7h0.01M435.2 164.8h0.01M435.4 85.6h0.01M437.5 147.5h0.01M435.9 140.2h0.01M434.9 175.8h0.01M437.7 180.8h0.01M434.2 122.3h0.01M434.1 150.7h0.01M434.2 175.1h0.01M436.1 123.7h0.01M436.9 189.0h0.01M437.6 156.0h0.01M437.2 173.6h0.01M434.5 115.2h0.01M437.7 154.0h0.01M436.4 184.7h0.01M437.4 189.6h0.01M435.1 91.2h0.01M436.7 102.4h0.01M437.1 191.7h0.01M434.7 173.6h0.01M437.0 172.3h0.01M434.0 188.7h0.01M437.7 157.1h0.01M435.0 192.2h0.01M436.4 81.4h0.01M436.5 188.4h0.01M437.1 117.8h0.01M436.8 159.0h0.01M437.3 94.7h0.01M436.2 126.3h0.01M437.2 152.5h0.01M437.8 151.9h0.01M436.4 183.8h0.01M437.5 140.4h0.01M435.5 99.9h0.01M435.4 79.8h0.01M436.9 192.2h0.01M436.3 178.7h0.01M435.9 159.4h0.01M434.0 72.4h0.01M435.3 178.2h0.01M437.1 185.6h0.01M437.5 162.7h0.01M435.6 166.9h0.01M436.4 178.2h0.01M437.0 89.9h0.01M436.9 192.1h0.01M435.9 153.5h0.01M437.7 159.8h0.01M435.0 183.7h0.01M437.0 141.1h0.01M435.9 94.3h0.01M437.2 170.2h0.01M437.5 72.1h0.01M436.9 115.0h0.01M436.2 191.1h0.01M434.4 185.7h0.01M437.8 85.6h0.01M437.2 191.9h0.01M437.6 137.6h0.01" stroke="#e05070" stroke-opacity="0.22" stroke-width="1.0" stroke-linecap="round" fill="none"/>
<rect x="414.00" y="191.50" width="23.50" height="1.30" fill="#e05a6a" fill-opacity="0.9"/>
<path d="M392.3 192.1h0.01M375.0 192.1h0.01M374.4 192.1h0.01M360.3 192.1h0.01M407.0 192.1h0.01M346.4 192.1h0.01M346.7 192.1h0.01M402.4 192.1h0.01M404.6 192.1h0.01M394.4 192.1h0.01M413.7 192.1h0.01M407.3 192.1h0.01M365.2 192.1h0.01M350.1 192.1h0.01M384.4 192.1h0.01M344.0 192.1h0.01M374.0 192.1h0.01M345.3 192.1h0.01M399.3 192.1h0.01M342.5 192.1h0.01M400.0 192.1h0.01M408.3 192.1h0.01M349.1 192.1h0.01M375.7 192.1h0.01M345.6 192.1h0.01M358.3 192.1h0.01M346.2 192.1h0.01M371.6 192.1h0.01M351.2 192.1h0.01M376.6 192.1h0.01M398.5 192.1h0.01M381.0 192.1h0.01M412.7 192.1h0.01M400.1 192.1h0.01M407.6 192.1h0.01M363.0 192.1h0.01M394.2 192.1h0.01M402.4 192.1h0.01M413.9 192.1h0.01M405.1 192.1h0.01M368.0 192.1h0.01M412.0 192.1h0.01M377.8 192.1h0.01M403.1 192.1h0.01M344.3 192.1h0.01M383.7 192.1h0.01M392.0 192.1h0.01M409.4 192.1h0.01M393.2 192.1h0.01M365.4 192.1h0.01M374.2 192.1h0.01M386.2 192.1h0.01M349.7 192.1h0.01M364.3 192.1h0.01M413.8 192.1h0.01M357.3 192.1h0.01M393.9 192.1h0.01M344.1 192.1h0.01M357.3 192.1h0.01M346.3 192.1h0.01" stroke="#e8808a" stroke-opacity="0.35" stroke-width="1.1" stroke-linecap="round" fill="none"/>
<line x1="437.60" y1="65.50" x2="437.60" y2="192.00" stroke="#5a5f80" stroke-width="0.7"/>
<circle cx="439.30" cy="74.00" r="1.7" fill="#b4bed8" fill-opacity="0.85"/>
<circle cx="439.30" cy="80.25" r="1.7" fill="#b0bbd6" fill-opacity="0.85"/>
<circle cx="439.30" cy="86.50" r="1.7" fill="#acb9d5" fill-opacity="0.85"/>
<circle cx="439.30" cy="92.75" r="1.7" fill="#a8b7d4" fill-opacity="0.85"/>
<circle cx="439.30" cy="99.00" r="1.7" fill="#a4b5d2" fill-opacity="0.85"/>
<circle cx="439.30" cy="105.25" r="1.7" fill="#a0b3d1" fill-opacity="0.85"/>
<circle cx="439.30" cy="111.50" r="1.7" fill="#9cb1d0" fill-opacity="0.85"/>
<circle cx="439.30" cy="117.75" r="1.7" fill="#98aece" fill-opacity="0.85"/>
<circle cx="439.30" cy="124.00" r="1.7" fill="#94accd" fill-opacity="0.85"/>
<circle cx="439.30" cy="130.25" r="1.7" fill="#90aacc" fill-opacity="0.85"/>
<circle cx="439.30" cy="136.50" r="1.7" fill="#8ca8cb" fill-opacity="0.85"/>
<circle cx="439.30" cy="142.75" r="1.7" fill="#88a6c9" fill-opacity="0.85"/>
<circle cx="439.30" cy="149.00" r="1.7" fill="#84a4c8" fill-opacity="0.85"/>
<circle cx="439.30" cy="155.25" r="1.7" fill="#80a1c7" fill-opacity="0.85"/>
<circle cx="439.30" cy="161.50" r="1.7" fill="#7c9fc5" fill-opacity="0.85"/>
<circle cx="439.30" cy="167.75" r="1.7" fill="#789dc4" fill-opacity="0.85"/>
<circle cx="439.30" cy="174.00" r="1.7" fill="#749bc3" fill-opacity="0.85"/>
<circle cx="439.30" cy="180.25" r="1.7" fill="#7099c2" fill-opacity="0.85"/>
<circle cx="439.30" cy="186.50" r="1.7" fill="#6c97c0" fill-opacity="0.85"/>
<circle cx="438.70" cy="192.30" r="2.0" fill="#000"/>
<text x="0" y="0" font-size="7.4" text-anchor="start" fill="#3a3a3a" font-weight="normal" transform="translate(308.9 71.6) scale(0.8798 1)" stroke="#3a3a3a" stroke-width="0.1">Reproducibility</text>
<text x="0" y="0" font-size="7.4" text-anchor="start" fill="#5a80b4" font-weight="normal" transform="translate(308.9 78.0) scale(0.8550 1)" stroke="#5a80b4" stroke-width="0.1">&#8805;99% n = 6829</text>
<text x="0" y="0" font-size="7.4" text-anchor="start" fill="#c8405a" font-weight="normal" transform="translate(308.9 84.4) scale(0.8506 1)" stroke="#c8405a" stroke-width="0.1">&lt;99% n = 1067</text>
<line x1="451.80" y1="65.30" x2="451.80" y2="198.80" stroke="#222" stroke-width="1.1"/>
<line x1="451.80" y1="198.60" x2="477.30" y2="198.60" stroke="#222" stroke-width="1.1"/>
<line x1="451.80" y1="198.60" x2="451.80" y2="201.40" stroke="#222" stroke-width="0.9"/>
<text x="451.8" y="209.4" font-size="6.6" text-anchor="middle" fill="#333" font-weight="normal" stroke="#333" stroke-width="0.1">1</text>
<line x1="474.40" y1="198.60" x2="474.40" y2="201.40" stroke="#222" stroke-width="0.9"/>
<text x="474.4" y="209.4" font-size="6.6" text-anchor="middle" fill="#333" font-weight="normal" stroke="#333" stroke-width="0.1">2000</text>
<text x="0" y="0" font-size="8.3" text-anchor="middle" fill="#333" font-weight="normal" transform="translate(464.6 221.8) scale(0.7946 1)" stroke="#333" stroke-width="0.1">Count</text>
<rect x="451.80" y="71.00" width="13.20" height="2.40" fill="#2b5f94" stroke="#1a3d66" stroke-width="0.3"/>
<rect x="451.80" y="73.40" width="10.60" height="2.40" fill="#2b5f94" stroke="#1a3d66" stroke-width="0.3"/>
<rect x="451.80" y="75.80" width="11.98" height="2.40" fill="#2b5f94" stroke="#1a3d66" stroke-width="0.3"/>
<rect x="451.80" y="78.20" width="11.09" height="2.40" fill="#2b5f94" stroke="#1a3d66" stroke-width="0.3"/>
<rect x="451.80" y="80.60" width="11.21" height="2.40" fill="#2b5f94" stroke="#1a3d66" stroke-width="0.3"/>
<rect x="451.80" y="83.00" width="11.41" height="2.40" fill="#2b5f94" stroke="#1a3d66" stroke-width="0.3"/>
<rect x="451.80" y="85.40" width="10.64" height="2.40" fill="#2b5f94" stroke="#1a3d66" stroke-width="0.3"/>
<rect x="451.80" y="87.80" width="11.35" height="2.40" fill="#2b5f94" stroke="#1a3d66" stroke-width="0.3"/>
<rect x="451.80" y="90.20" width="11.64" height="2.40" fill="#2b5f94" stroke="#1a3d66" stroke-width="0.3"/>
<rect x="451.80" y="92.60" width="12.02" height="2.40" fill="#2b5f94" stroke="#1a3d66" stroke-width="0.3"/>
<rect x="451.80" y="95.00" width="10.68" height="2.40" fill="#2b5f94" stroke="#1a3d66" stroke-width="0.3"/>
<rect x="451.80" y="97.40" width="11.17" height="2.40" fill="#2b5f94" stroke="#1a3d66" stroke-width="0.3"/>
<rect x="451.80" y="99.80" width="10.81" height="2.40" fill="#2b5f94" stroke="#1a3d66" stroke-width="0.3"/>
<rect x="451.80" y="102.20" width="12.32" height="2.40" fill="#2b5f94" stroke="#1a3d66" stroke-width="0.3"/>
<rect x="451.80" y="104.60" width="12.17" height="2.40" fill="#2b5f94" stroke="#1a3d66" stroke-width="0.3"/>
<rect x="451.80" y="107.00" width="10.94" height="2.40" fill="#2b5f94" stroke="#1a3d66" stroke-width="0.3"/>
<rect x="451.80" y="109.40" width="12.90" height="2.40" fill="#2b5f94" stroke="#1a3d66" stroke-width="0.3"/>
<rect x="451.80" y="111.80" width="12.96" height="2.40" fill="#2b5f94" stroke="#1a3d66" stroke-width="0.3"/>
<rect x="451.80" y="114.20" width="12.42" height="2.40" fill="#2b5f94" stroke="#1a3d66" stroke-width="0.3"/>
<rect x="451.80" y="116.60" width="12.44" height="2.40" fill="#2b5f94" stroke="#1a3d66" stroke-width="0.3"/>
<rect x="451.80" y="119.00" width="11.62" height="2.40" fill="#2b5f94" stroke="#1a3d66" stroke-width="0.3"/>
<rect x="451.80" y="121.40" width="11.43" height="2.40" fill="#2b5f94" stroke="#1a3d66" stroke-width="0.3"/>
<rect x="451.80" y="123.80" width="12.55" height="2.40" fill="#2b5f94" stroke="#1a3d66" stroke-width="0.3"/>
<rect x="451.80" y="126.20" width="11.72" height="2.40" fill="#2b5f94" stroke="#1a3d66" stroke-width="0.3"/>
<rect x="451.80" y="128.60" width="12.09" height="2.40" fill="#2b5f94" stroke="#1a3d66" stroke-width="0.3"/>
<rect x="451.80" y="131.00" width="12.30" height="2.40" fill="#2b5f94" stroke="#1a3d66" stroke-width="0.3"/>
<rect x="451.80" y="133.40" width="11.99" height="2.40" fill="#2b5f94" stroke="#1a3d66" stroke-width="0.3"/>
<rect x="451.80" y="135.80" width="12.97" height="2.40" fill="#2b5f94" stroke="#1a3d66" stroke-width="0.3"/>
<rect x="451.80" y="138.20" width="13.04" height="2.40" fill="#2b5f94" stroke="#1a3d66" stroke-width="0.3"/>
<rect x="451.80" y="140.60" width="13.96" height="2.40" fill="#2b5f94" stroke="#1a3d66" stroke-width="0.3"/>
<rect x="451.80" y="143.00" width="13.43" height="2.40" fill="#2b5f94" stroke="#1a3d66" stroke-width="0.3"/>
<rect x="451.80" y="145.40" width="13.80" height="2.40" fill="#2b5f94" stroke="#1a3d66" stroke-width="0.3"/>
<rect x="451.80" y="147.80" width="13.65" height="2.40" fill="#2b5f94" stroke="#1a3d66" stroke-width="0.3"/>
<rect x="451.80" y="150.20" width="14.10" height="2.40" fill="#2b5f94" stroke="#1a3d66" stroke-width="0.3"/>
<rect x="451.80" y="152.60" width="13.82" height="2.40" fill="#2b5f94" stroke="#1a3d66" stroke-width="0.3"/>
<rect x="451.80" y="155.00" width="13.60" height="2.40" fill="#2b5f94" stroke="#1a3d66" stroke-width="0.3"/>
<rect x="451.80" y="157.40" width="15.17" height="2.40" fill="#2b5f94" stroke="#1a3d66" stroke-width="0.3"/>
<rect x="451.80" y="159.80" width="15.30" height="2.40" fill="#2b5f94" stroke="#1a3d66" stroke-width="0.3"/>
<rect x="451.80" y="162.20" width="15.13" height="2.40" fill="#2b5f94" stroke="#1a3d66" stroke-width="0.3"/>
<rect x="451.80" y="164.60" width="15.01" height="2.40" fill="#2b5f94" stroke="#1a3d66" stroke-width="0.3"/>
<rect x="451.80" y="167.00" width="14.37" height="2.40" fill="#2b5f94" stroke="#1a3d66" stroke-width="0.3"/>
<rect x="451.80" y="169.40" width="14.34" height="2.40" fill="#2b5f94" stroke="#1a3d66" stroke-width="0.3"/>
<rect x="451.80" y="171.80" width="14.61" height="2.40" fill="#2b5f94" stroke="#1a3d66" stroke-width="0.3"/>
<rect x="451.80" y="174.20" width="14.33" height="2.40" fill="#2b5f94" stroke="#1a3d66" stroke-width="0.3"/>
<rect x="451.80" y="176.60" width="15.87" height="2.40" fill="#2b5f94" stroke="#1a3d66" stroke-width="0.3"/>
<rect x="451.80" y="179.00" width="15.29" height="2.40" fill="#2b5f94" stroke="#1a3d66" stroke-width="0.3"/>
<rect x="451.80" y="181.40" width="16.34" height="2.40" fill="#2b5f94" stroke="#1a3d66" stroke-width="0.3"/>
<rect x="451.80" y="183.80" width="15.58" height="2.40" fill="#2b5f94" stroke="#1a3d66" stroke-width="0.3"/>
<rect x="451.80" y="186.20" width="16.89" height="2.40" fill="#2b5f94" stroke="#1a3d66" stroke-width="0.3"/>
<rect x="451.80" y="188.60" width="16.83" height="2.40" fill="#2b5f94" stroke="#1a3d66" stroke-width="0.3"/>
<line x1="35.80" y1="266.00" x2="35.80" y2="342.80" stroke="#222" stroke-width="1.1"/>
<line x1="33.00" y1="269.50" x2="35.80" y2="269.50" stroke="#222" stroke-width="0.9"/>
<text x="29.999999999999996" y="271.8" font-size="6.6" text-anchor="end" fill="#333" font-weight="normal" stroke="#333" stroke-width="0.1">1.0</text>
<line x1="33.00" y1="293.70" x2="35.80" y2="293.70" stroke="#222" stroke-width="0.9"/>
<text x="29.999999999999996" y="296.0" font-size="6.6" text-anchor="end" fill="#333" font-weight="normal" stroke="#333" stroke-width="0.1">0.9</text>
<line x1="33.00" y1="317.90" x2="35.80" y2="317.90" stroke="#222" stroke-width="0.9"/>
<text x="29.999999999999996" y="320.2" font-size="6.6" text-anchor="end" fill="#333" font-weight="normal" stroke="#333" stroke-width="0.1">0.8</text>
<line x1="33.00" y1="342.10" x2="35.80" y2="342.10" stroke="#222" stroke-width="0.9"/>
<text x="29.999999999999996" y="344.40000000000003" font-size="6.6" text-anchor="end" fill="#333" font-weight="normal" stroke="#333" stroke-width="0.1">0.7</text>
<line x1="35.80" y1="342.60" x2="140.90" y2="342.60" stroke="#222" stroke-width="1.1"/>
<line x1="35.80" y1="342.60" x2="35.80" y2="345.40" stroke="#222" stroke-width="0.9"/>
<text x="35.8" y="353.3" font-size="6.6" text-anchor="middle" fill="#333" font-weight="normal" stroke="#333" stroke-width="0.1">0.7</text>
<line x1="69.70" y1="342.60" x2="69.70" y2="345.40" stroke="#222" stroke-width="0.9"/>
<text x="69.69999999999999" y="353.3" font-size="6.6" text-anchor="middle" fill="#333" font-weight="normal" stroke="#333" stroke-width="0.1">0.8</text>
<line x1="103.60" y1="342.60" x2="103.60" y2="345.40" stroke="#222" stroke-width="0.9"/>
<text x="103.6" y="353.3" font-size="6.6" text-anchor="middle" fill="#333" font-weight="normal" stroke="#333" stroke-width="0.1">0.9</text>
<line x1="137.50" y1="342.60" x2="137.50" y2="345.40" stroke="#222" stroke-width="0.9"/>
<text x="137.5" y="353.3" font-size="6.6" text-anchor="middle" fill="#333" font-weight="normal" stroke="#333" stroke-width="0.1">1.0</text>
<text x="0" y="0" font-size="8.3" text-anchor="middle" fill="#333" font-weight="normal" transform="translate(88.9 365.6) scale(0.7718 1)" stroke="#333" stroke-width="0.1">European (P)</text>
<text x="0" y="0" font-size="8.4" text-anchor="middle" fill="#333" font-weight="normal" transform="translate(88.8 261.8) scale(0.9701 1)" stroke="#333" stroke-width="0.1">HLA-B</text>
<line x1="35.80" y1="342.00" x2="137.50" y2="269.50" stroke="#cdcdcd" stroke-width="1.0"/>
<circle cx="61.90" cy="328.50" r="0.9" fill="#c83040"/>
<circle cx="61.90" cy="330.10" r="0.9" fill="#3a1830"/>
<circle cx="61.90" cy="331.60" r="0.9" fill="#3a1830"/>
<circle cx="61.90" cy="337.30" r="0.9" fill="#4fc3dc"/>
<circle cx="74.20" cy="322.40" r="0.9" fill="#c83040"/>
<circle cx="74.20" cy="323.90" r="0.9" fill="#3a1830"/>
<circle cx="74.20" cy="325.20" r="0.9" fill="#2a9a48"/>
<circle cx="74.20" cy="332.20" r="0.9" fill="#4fc3dc"/>
<circle cx="81.00" cy="319.60" r="0.9" fill="#c83040"/>
<circle cx="81.00" cy="320.80" r="0.9" fill="#3a1830"/>
<circle cx="81.00" cy="321.80" r="0.9" fill="#2a9a48"/>
<circle cx="81.00" cy="329.20" r="0.9" fill="#4fc3dc"/>
<circle cx="86.80" cy="316.80" r="0.9" fill="#2a9a48"/>
<circle cx="86.80" cy="317.60" r="0.9" fill="#3a1830"/>
<circle cx="86.80" cy="323.50" r="0.9" fill="#4fc3dc"/>
<circle cx="92.20" cy="313.80" r="0.9" fill="#3a1830"/>
<circle cx="92.20" cy="316.30" r="0.9" fill="#2a9a48"/>
<circle cx="92.20" cy="321.20" r="0.9" fill="#4fc3dc"/>
<circle cx="99.20" cy="310.40" r="0.9" fill="#c83040"/>
<circle cx="99.20" cy="311.80" r="0.9" fill="#3a1830"/>
<circle cx="99.20" cy="313.20" r="0.9" fill="#2a9a48"/>
<circle cx="99.20" cy="314.70" r="0.9" fill="#2a9a48"/>
<circle cx="99.20" cy="317.30" r="0.9" fill="#4fc3dc"/>
<circle cx="109.90" cy="308.80" r="0.9" fill="#c83040"/>
<circle cx="109.90" cy="310.40" r="0.9" fill="#3a1830"/>
<circle cx="109.90" cy="311.90" r="0.9" fill="#2a9a48"/>
<circle cx="109.90" cy="315.00" r="0.9" fill="#4fc3dc"/>
<circle cx="36.80" cy="333.50" r="0.9" fill="#c8a0a8"/>
<circle cx="36.80" cy="338.80" r="0.9" fill="#3a1830"/>
<circle cx="36.80" cy="340.30" r="0.9" fill="#3a1830"/>
<circle cx="61.90" cy="323.00" r="0.9" fill="#d0b8c0"/>
<circle cx="116.70" cy="312.80" r="0.9" fill="#4fc3dc"/>
<circle cx="119.81" cy="311.42" r="0.9" fill="#4fc3dc"/>
<circle cx="123.02" cy="310.32" r="0.9" fill="#4fc3dc"/>
<circle cx="126.15" cy="309.00" r="0.9" fill="#4fc3dc"/>
<circle cx="129.05" cy="307.24" r="0.9" fill="#4fc3dc"/>
<circle cx="131.14" cy="305.69" r="0.9" fill="#4fc3dc"/>
<circle cx="133.12" cy="304.03" r="0.9" fill="#4fc3dc"/>
<circle cx="134.61" cy="301.90" r="0.9" fill="#4fc3dc"/>
<circle cx="135.64" cy="299.53" r="0.9" fill="#4fc3dc"/>
<circle cx="136.42" cy="297.06" r="0.9" fill="#4fc3dc"/>
<circle cx="136.80" cy="294.49" r="0.9" fill="#4fc3dc"/>
<circle cx="137.13" cy="291.91" r="0.9" fill="#4fc3dc"/>
<circle cx="137.27" cy="289.31" r="0.9" fill="#4fc3dc"/>
<circle cx="137.41" cy="286.72" r="0.9" fill="#4fc3dc"/>
<circle cx="137.52" cy="284.12" r="0.9" fill="#4fc3dc"/>
<circle cx="137.56" cy="281.52" r="0.9" fill="#4fc3dc"/>
<circle cx="137.61" cy="278.92" r="0.9" fill="#4fc3dc"/>
<circle cx="137.65" cy="276.32" r="0.9" fill="#4fc3dc"/>
<circle cx="137.70" cy="273.72" r="0.9" fill="#4fc3dc"/>
<circle cx="116.70" cy="309.80" r="0.9" fill="#3a1830"/>
<circle cx="119.84" cy="308.49" r="0.9" fill="#3a1830"/>
<circle cx="122.99" cy="307.21" r="0.9" fill="#3a1830"/>
<circle cx="125.86" cy="305.44" r="0.9" fill="#3a1830"/>
<circle cx="128.60" cy="303.42" r="0.9" fill="#3a1830"/>
<circle cx="130.47" cy="301.93" r="0.9" fill="#3a1830"/>
<circle cx="132.17" cy="300.23" r="0.9" fill="#3a1830"/>
<circle cx="133.49" cy="298.25" r="0.9" fill="#3a1830"/>
<circle cx="134.62" cy="296.14" r="0.9" fill="#3a1830"/>
<circle cx="135.36" cy="293.85" r="0.9" fill="#3a1830"/>
<circle cx="135.96" cy="291.54" r="0.9" fill="#3a1830"/>
<circle cx="136.35" cy="289.17" r="0.9" fill="#3a1830"/>
<circle cx="136.72" cy="286.80" r="0.9" fill="#3a1830"/>
<circle cx="136.92" cy="284.41" r="0.9" fill="#3a1830"/>
<circle cx="137.13" cy="282.02" r="0.9" fill="#3a1830"/>
<circle cx="137.32" cy="279.62" r="0.9" fill="#3a1830"/>
<circle cx="137.43" cy="277.23" r="0.9" fill="#3a1830"/>
<circle cx="137.54" cy="274.83" r="0.9" fill="#3a1830"/>
<circle cx="137.66" cy="272.43" r="0.9" fill="#3a1830"/>
<circle cx="116.70" cy="311.60" r="0.9" fill="#2a9a48"/>
<circle cx="119.81" cy="310.22" r="0.9" fill="#2a9a48"/>
<circle cx="123.02" cy="309.12" r="0.9" fill="#2a9a48"/>
<circle cx="126.09" cy="307.68" r="0.9" fill="#2a9a48"/>
<circle cx="129.00" cy="305.93" r="0.9" fill="#2a9a48"/>
<circle cx="130.55" cy="304.84" r="0.9" fill="#2a9a48"/>
<circle cx="132.01" cy="303.62" r="0.9" fill="#2a9a48"/>
<circle cx="133.34" cy="302.29" r="0.9" fill="#2a9a48"/>
<circle cx="134.39" cy="300.71" r="0.9" fill="#2a9a48"/>
<circle cx="135.26" cy="299.03" r="0.9" fill="#2a9a48"/>
<circle cx="135.88" cy="297.24" r="0.9" fill="#2a9a48"/>
<circle cx="136.39" cy="295.41" r="0.9" fill="#2a9a48"/>
<circle cx="136.68" cy="293.54" r="0.9" fill="#2a9a48"/>
<circle cx="136.98" cy="291.66" r="0.9" fill="#2a9a48"/>
<circle cx="137.11" cy="289.76" r="0.9" fill="#2a9a48"/>
<circle cx="137.22" cy="287.87" r="0.9" fill="#2a9a48"/>
<circle cx="137.34" cy="285.97" r="0.9" fill="#2a9a48"/>
<circle cx="137.43" cy="284.07" r="0.9" fill="#2a9a48"/>
<circle cx="137.48" cy="282.17" r="0.9" fill="#2a9a48"/>
<circle cx="137.53" cy="280.28" r="0.9" fill="#2a9a48"/>
<circle cx="137.59" cy="278.38" r="0.9" fill="#2a9a48"/>
<circle cx="137.62" cy="276.48" r="0.9" fill="#2a9a48"/>
<circle cx="137.65" cy="274.58" r="0.9" fill="#2a9a48"/>
<circle cx="137.67" cy="272.68" r="0.9" fill="#2a9a48"/>
<circle cx="116.70" cy="306.60" r="0.9" fill="#c83040"/>
<circle cx="119.26" cy="305.04" r="0.9" fill="#c83040"/>
<circle cx="121.45" cy="303.04" r="0.9" fill="#c83040"/>
<circle cx="123.35" cy="300.72" r="0.9" fill="#c83040"/>
<circle cx="125.13" cy="298.31" r="0.9" fill="#c83040"/>
<circle cx="127.09" cy="296.05" r="0.9" fill="#c83040"/>
<circle cx="129.18" cy="293.90" r="0.9" fill="#c83040"/>
<circle cx="131.05" cy="291.56" r="0.9" fill="#c83040"/>
<circle cx="132.36" cy="289.79" r="0.9" fill="#c83040"/>
<circle cx="133.57" cy="287.96" r="0.9" fill="#c83040"/>
<circle cx="134.55" cy="285.99" r="0.9" fill="#c83040"/>
<circle cx="135.25" cy="283.91" r="0.9" fill="#c83040"/>
<circle cx="135.86" cy="281.80" r="0.9" fill="#c83040"/>
<circle cx="136.26" cy="279.64" r="0.9" fill="#c83040"/>
<circle cx="136.61" cy="277.47" r="0.9" fill="#c83040"/>
<circle cx="136.95" cy="275.29" r="0.9" fill="#c83040"/>
<circle cx="137.24" cy="273.11" r="0.9" fill="#c83040"/>
<circle cx="137.51" cy="270.93" r="0.9" fill="#c83040"/>
<line x1="157.00" y1="267.20" x2="157.00" y2="342.80" stroke="#222" stroke-width="1.1"/>
<line x1="157.00" y1="342.60" x2="262.20" y2="342.60" stroke="#222" stroke-width="1.1"/>
<line x1="157.00" y1="342.60" x2="157.00" y2="345.40" stroke="#222" stroke-width="0.9"/>
<text x="157.0" y="353.3" font-size="6.6" text-anchor="middle" fill="#333" font-weight="normal" stroke="#333" stroke-width="0.1">0.7</text>
<line x1="190.93" y1="342.60" x2="190.93" y2="345.40" stroke="#222" stroke-width="0.9"/>
<text x="190.93333333333334" y="353.3" font-size="6.6" text-anchor="middle" fill="#333" font-weight="normal" stroke="#333" stroke-width="0.1">0.8</text>
<line x1="224.87" y1="342.60" x2="224.87" y2="345.40" stroke="#222" stroke-width="0.9"/>
<text x="224.86666666666667" y="353.3" font-size="6.6" text-anchor="middle" fill="#333" font-weight="normal" stroke="#333" stroke-width="0.1">0.9</text>
<line x1="258.80" y1="342.60" x2="258.80" y2="345.40" stroke="#222" stroke-width="0.9"/>
<text x="258.8" y="353.3" font-size="6.6" text-anchor="middle" fill="#333" font-weight="normal" stroke="#333" stroke-width="0.1">1.0</text>
<text x="0" y="0" font-size="8.3" text-anchor="middle" fill="#333" font-weight="normal" transform="translate(210.1 365.6) scale(0.7718 1)" stroke="#333" stroke-width="0.1">European (P)</text>
<text x="0" y="0" font-size="8.4" text-anchor="middle" fill="#333" font-weight="normal" transform="translate(209.3 261.8) scale(0.9676 1)" stroke="#333" stroke-width="0.1">HLA-DRB1</text>
<line x1="157.00" y1="342.00" x2="258.80" y2="269.50" stroke="#cdcdcd" stroke-width="1.0"/>
<circle cx="173.90" cy="328.80" r="0.9" fill="#c83040"/>
<circle cx="173.90" cy="331.90" r="0.9" fill="#4fc3dc"/>
<circle cx="173.90" cy="333.90" r="0.9" fill="#3a1830"/>
<circle cx="181.30" cy="326.30" r="0.9" fill="#c83040"/>
<circle cx="181.30" cy="329.80" r="0.9" fill="#2a9a48"/>
<circle cx="181.30" cy="331.90" r="0.9" fill="#4fc3dc"/>
<circle cx="181.30" cy="331.35" r="0.9" fill="#2a9a48"/>
<circle cx="186.90" cy="323.60" r="0.9" fill="#c83040"/>
<circle cx="186.90" cy="326.70" r="0.9" fill="#4fc3dc"/>
<circle cx="186.90" cy="328.40" r="0.9" fill="#3a1830"/>
<circle cx="192.70" cy="319.50" r="0.9" fill="#c83040"/>
<circle cx="192.70" cy="322.60" r="0.9" fill="#2a9a48"/>
<circle cx="192.70" cy="325.30" r="0.9" fill="#3a1830"/>
<circle cx="192.70" cy="324.45" r="0.9" fill="#2a9a48"/>
<circle cx="197.20" cy="317.50" r="0.9" fill="#c83040"/>
<circle cx="197.20" cy="320.10" r="0.9" fill="#4fc3dc"/>
<circle cx="197.20" cy="323.60" r="0.9" fill="#4fc3dc"/>
<circle cx="202.70" cy="311.30" r="0.9" fill="#c83040"/>
<circle cx="202.70" cy="315.40" r="0.9" fill="#2a9a48"/>
<circle cx="202.70" cy="319.50" r="0.9" fill="#3a1830"/>
<circle cx="202.70" cy="317.95" r="0.9" fill="#2a9a48"/>
<circle cx="208.90" cy="306.20" r="0.9" fill="#c83040"/>
<circle cx="208.90" cy="311.30" r="0.9" fill="#4fc3dc"/>
<circle cx="208.90" cy="314.40" r="0.9" fill="#3a1830"/>
<circle cx="212.60" cy="304.10" r="0.9" fill="#c83040"/>
<circle cx="212.60" cy="309.90" r="0.9" fill="#2a9a48"/>
<circle cx="212.60" cy="311.90" r="0.9" fill="#4fc3dc"/>
<circle cx="212.60" cy="311.40" r="0.9" fill="#2a9a48"/>
<circle cx="216.30" cy="302.00" r="0.9" fill="#c83040"/>
<circle cx="216.30" cy="306.20" r="0.9" fill="#4fc3dc"/>
<circle cx="216.30" cy="309.20" r="0.9" fill="#3a1830"/>
<circle cx="221.90" cy="300.00" r="0.9" fill="#c83040"/>
<circle cx="221.90" cy="303.10" r="0.9" fill="#2a9a48"/>
<circle cx="221.90" cy="306.20" r="0.9" fill="#3a1830"/>
<circle cx="221.90" cy="305.15" r="0.9" fill="#2a9a48"/>
<circle cx="226.00" cy="297.90" r="0.9" fill="#c83040"/>
<circle cx="226.00" cy="302.00" r="0.9" fill="#4fc3dc"/>
<circle cx="226.00" cy="305.10" r="0.9" fill="#4fc3dc"/>
<circle cx="230.10" cy="293.80" r="0.9" fill="#c83040"/>
<circle cx="230.10" cy="299.00" r="0.9" fill="#2a9a48"/>
<circle cx="230.10" cy="302.00" r="0.9" fill="#3a1830"/>
<circle cx="230.10" cy="301.00" r="0.9" fill="#2a9a48"/>
<circle cx="233.20" cy="294.80" r="0.9" fill="#c83040"/>
<circle cx="233.20" cy="297.90" r="0.9" fill="#4fc3dc"/>
<circle cx="233.20" cy="301.00" r="0.9" fill="#3a1830"/>
<circle cx="236.30" cy="290.70" r="0.9" fill="#c83040"/>
<circle cx="236.30" cy="295.90" r="0.9" fill="#2a9a48"/>
<circle cx="236.30" cy="297.90" r="0.9" fill="#4fc3dc"/>
<circle cx="236.30" cy="297.40" r="0.9" fill="#2a9a48"/>
<circle cx="239.40" cy="286.60" r="0.9" fill="#c83040"/>
<circle cx="239.40" cy="290.70" r="0.9" fill="#4fc3dc"/>
<circle cx="239.40" cy="293.80" r="0.9" fill="#3a1830"/>
<circle cx="239.50" cy="291.00" r="0.9" fill="#4fc3dc"/>
<circle cx="241.40" cy="289.70" r="0.9" fill="#4fc3dc"/>
<circle cx="243.29" cy="288.40" r="0.9" fill="#4fc3dc"/>
<circle cx="245.19" cy="287.10" r="0.9" fill="#4fc3dc"/>
<circle cx="247.04" cy="285.74" r="0.9" fill="#4fc3dc"/>
<circle cx="248.79" cy="284.24" r="0.9" fill="#4fc3dc"/>
<circle cx="250.45" cy="282.66" r="0.9" fill="#4fc3dc"/>
<circle cx="251.92" cy="280.89" r="0.9" fill="#4fc3dc"/>
<circle cx="253.34" cy="279.08" r="0.9" fill="#4fc3dc"/>
<circle cx="254.59" cy="277.16" r="0.9" fill="#4fc3dc"/>
<circle cx="255.85" cy="275.23" r="0.9" fill="#4fc3dc"/>
<circle cx="256.94" cy="273.21" r="0.9" fill="#4fc3dc"/>
<circle cx="258.00" cy="271.17" r="0.9" fill="#4fc3dc"/>
<circle cx="243.00" cy="291.60" r="0.9" fill="#28305a"/>
<circle cx="245.00" cy="290.20" r="0.9" fill="#28305a"/>
<circle cx="248.30" cy="288.10" r="0.9" fill="#28305a"/>
<circle cx="250.70" cy="285.50" r="0.9" fill="#28305a"/>
<circle cx="251.60" cy="283.50" r="0.9" fill="#28305a"/>
<circle cx="253.60" cy="280.50" r="0.9" fill="#28305a"/>
<circle cx="255.60" cy="277.20" r="0.9" fill="#28305a"/>
<circle cx="257.40" cy="273.60" r="0.9" fill="#28305a"/>
<circle cx="241.00" cy="286.40" r="0.9" fill="#c83040"/>
<circle cx="243.20" cy="285.30" r="0.9" fill="#c83040"/>
<circle cx="241.50" cy="286.80" r="0.9" fill="#2a9a48"/>
<circle cx="242.26" cy="285.87" r="0.9" fill="#2a9a48"/>
<circle cx="243.03" cy="284.95" r="0.9" fill="#2a9a48"/>
<circle cx="243.79" cy="284.02" r="0.9" fill="#2a9a48"/>
<circle cx="244.63" cy="283.18" r="0.9" fill="#2a9a48"/>
<circle cx="245.63" cy="282.51" r="0.9" fill="#2a9a48"/>
<circle cx="246.63" cy="281.85" r="0.9" fill="#2a9a48"/>
<circle cx="247.59" cy="281.13" r="0.9" fill="#2a9a48"/>
<circle cx="248.52" cy="280.38" r="0.9" fill="#2a9a48"/>
<circle cx="249.46" cy="279.63" r="0.9" fill="#2a9a48"/>
<circle cx="250.40" cy="278.88" r="0.9" fill="#2a9a48"/>
<circle cx="251.33" cy="278.13" r="0.9" fill="#2a9a48"/>
<circle cx="252.27" cy="277.38" r="0.9" fill="#2a9a48"/>
<circle cx="253.13" cy="276.55" r="0.9" fill="#2a9a48"/>
<circle cx="253.96" cy="275.68" r="0.9" fill="#2a9a48"/>
<circle cx="254.79" cy="274.82" r="0.9" fill="#2a9a48"/>
<circle cx="255.56" cy="273.89" r="0.9" fill="#2a9a48"/>
<circle cx="256.30" cy="272.95" r="0.9" fill="#2a9a48"/>
<circle cx="257.04" cy="272.01" r="0.9" fill="#2a9a48"/>
<circle cx="257.78" cy="271.06" r="0.9" fill="#2a9a48"/>
<circle cx="157.80" cy="335.50" r="0.9" fill="#5a8a70"/>
<circle cx="157.80" cy="337.20" r="0.9" fill="#5a8a70"/>
<circle cx="157.80" cy="338.80" r="0.9" fill="#5a8a70"/>
<circle cx="157.80" cy="340.30" r="0.9" fill="#5a8a70"/>
<text x="0" y="0" font-size="8.2" text-anchor="middle" fill="#333" font-weight="normal" transform="translate(15.5 302.1) rotate(-90) scale(0.7664 1)" stroke="#333" stroke-width="0.1">Non-European (P)</text>
<circle cx="44.50" cy="276.40" r="0.85" fill="#c83040"/>
<text x="0" y="0" font-size="6.9" text-anchor="start" fill="#333" font-weight="normal" transform="translate(52.4 279.59999999999997) scale(0.8551 1)" stroke="#333" stroke-width="0.1">AFR</text>
<circle cx="44.50" cy="283.27" r="0.85" fill="#4fc3dc"/>
<text x="0" y="0" font-size="6.9" text-anchor="start" fill="#333" font-weight="normal" transform="translate(52.4 286.46999999999997) scale(0.9261 1)" stroke="#333" stroke-width="0.1">AMR</text>
<circle cx="44.50" cy="290.14" r="0.85" fill="#3a1830"/>
<text x="0" y="0" font-size="6.9" text-anchor="start" fill="#333" font-weight="normal" transform="translate(52.4 293.34) scale(0.7895 1)" stroke="#333" stroke-width="0.1">SAS</text>
<circle cx="44.50" cy="297.01" r="0.85" fill="#2a9a48"/>
<text x="0" y="0" font-size="6.9" text-anchor="start" fill="#333" font-weight="normal" transform="translate(52.4 300.21) scale(0.8112 1)" stroke="#333" stroke-width="0.1">EAS</text>
<line x1="36.20" y1="377.60" x2="36.20" y2="444.80" stroke="#222" stroke-width="1.1"/>
<line x1="33.40" y1="380.20" x2="36.20" y2="380.20" stroke="#222" stroke-width="0.9"/>
<text x="30.400000000000002" y="382.5" font-size="6.6" text-anchor="end" fill="#333" font-weight="normal" stroke="#333" stroke-width="0.1">100</text>
<line x1="33.40" y1="393.02" x2="36.20" y2="393.02" stroke="#222" stroke-width="0.9"/>
<text x="30.400000000000002" y="395.32" font-size="6.6" text-anchor="end" fill="#333" font-weight="normal" stroke="#333" stroke-width="0.1">80</text>
<line x1="33.40" y1="405.84" x2="36.20" y2="405.84" stroke="#222" stroke-width="0.9"/>
<text x="30.400000000000002" y="408.14" font-size="6.6" text-anchor="end" fill="#333" font-weight="normal" stroke="#333" stroke-width="0.1">60</text>
<line x1="33.40" y1="418.66" x2="36.20" y2="418.66" stroke="#222" stroke-width="0.9"/>
<text x="30.400000000000002" y="420.96" font-size="6.6" text-anchor="end" fill="#333" font-weight="normal" stroke="#333" stroke-width="0.1">40</text>
<line x1="33.40" y1="431.48" x2="36.20" y2="431.48" stroke="#222" stroke-width="0.9"/>
<text x="30.400000000000002" y="433.78000000000003" font-size="6.6" text-anchor="end" fill="#333" font-weight="normal" stroke="#333" stroke-width="0.1">20</text>
<line x1="33.40" y1="444.30" x2="36.20" y2="444.30" stroke="#222" stroke-width="0.9"/>
<text x="30.400000000000002" y="446.59999999999997" font-size="6.6" text-anchor="end" fill="#333" font-weight="normal" stroke="#333" stroke-width="0.1">0</text>
<line x1="36.20" y1="444.60" x2="138.60" y2="444.60" stroke="#222" stroke-width="1.1"/>
<path d="M51.60 409.05 L61.50 401.99 L61.50 444.3 L51.60 444.3 Z" fill="#d6d6d6"/>
<path d="M72.30 401.99 L82.20 396.87 L82.20 444.3 L72.30 444.3 Z" fill="#d6d6d6"/>
<path d="M93.00 396.87 L102.70 402.63 L102.70 444.3 L93.00 444.3 Z" fill="#d6d6d6"/>
<path d="M113.50 402.63 L123.50 407.76 L123.50 444.3 L113.50 444.3 Z" fill="#d6d6d6"/>
<path d="M51.60 405.84 L61.50 399.43 L61.50 401.99 L51.60 407.76 Z" fill="#cfe6c8" fill-opacity="0.45"/>
<path d="M72.30 399.43 L82.20 389.49 L82.20 391.74 L72.30 401.99 Z" fill="#d4ecc8" fill-opacity="0.45"/>
<path d="M93.00 386.29 L102.70 396.23 L102.70 400.71 L93.00 391.42 Z" fill="#ffd8b0" fill-opacity="0.35"/>
<path d="M113.50 390.14 L123.50 396.87 L123.50 407.76 L113.50 396.23 Z" fill="#d8f0d0" fill-opacity="0.35"/>
<rect x="41.20" y="409.05" width="10.00" height="35.26" fill="#4a4a4a" shape-rendering="crispEdges"/>
<rect x="41.20" y="399.43" width="10.00" height="9.62" fill="#aec7e8" shape-rendering="crispEdges"/>
<rect x="41.20" y="391.10" width="10.00" height="8.33" fill="#ff7f0e" shape-rendering="crispEdges"/>
<rect x="41.20" y="390.46" width="10.00" height="0.64" fill="#ffa050" shape-rendering="crispEdges"/>
<rect x="41.20" y="384.37" width="10.00" height="6.09" fill="#d2a8c8" shape-rendering="crispEdges"/>
<rect x="41.20" y="380.20" width="10.00" height="4.17" fill="#dad47c" shape-rendering="crispEdges"/>
<line x1="46.20" y1="444.60" x2="46.20" y2="447.40" stroke="#222" stroke-width="0.9"/>
<text x="48.5" y="450.5" font-size="6.8" text-anchor="end" fill="#333" font-weight="normal" transform="rotate(-90 48.5 450.5)" stroke="#333" stroke-width="0.1">EUR</text>
<rect x="61.90" y="401.99" width="10.00" height="42.31" fill="#4a4a4a" shape-rendering="crispEdges"/>
<rect x="61.90" y="397.51" width="10.00" height="4.49" fill="#c3cbef" shape-rendering="crispEdges"/>
<rect x="61.90" y="391.10" width="10.00" height="6.41" fill="#9467bd" shape-rendering="crispEdges"/>
<rect x="61.90" y="385.33" width="10.00" height="5.77" fill="#7c3a3a" shape-rendering="crispEdges"/>
<rect x="61.90" y="380.20" width="10.00" height="5.13" fill="#e377c2" shape-rendering="crispEdges"/>
<line x1="66.90" y1="444.60" x2="66.90" y2="447.40" stroke="#222" stroke-width="0.9"/>
<text x="69.2" y="450.5" font-size="6.8" text-anchor="end" fill="#333" font-weight="normal" transform="rotate(-90 69.2 450.5)" stroke="#333" stroke-width="0.1">AFR</text>
<rect x="82.60" y="396.87" width="10.00" height="47.43" fill="#4a4a4a" shape-rendering="crispEdges"/>
<rect x="82.60" y="393.34" width="10.00" height="3.53" fill="#aec7e8" shape-rendering="crispEdges"/>
<rect x="82.60" y="391.42" width="10.00" height="1.92" fill="#ffbb78" shape-rendering="crispEdges"/>
<rect x="82.60" y="386.29" width="10.00" height="5.13" fill="#ff7f0e" shape-rendering="crispEdges"/>
<rect x="82.60" y="384.37" width="10.00" height="1.92" fill="#98df8a" shape-rendering="crispEdges"/>
<rect x="82.60" y="380.20" width="10.00" height="4.17" fill="#9edae5" shape-rendering="crispEdges"/>
<line x1="87.60" y1="444.60" x2="87.60" y2="447.40" stroke="#222" stroke-width="0.9"/>
<text x="89.89999999999999" y="450.5" font-size="6.8" text-anchor="end" fill="#333" font-weight="normal" transform="rotate(-90 89.89999999999999 450.5)" stroke="#333" stroke-width="0.1">AMR</text>
<rect x="103.10" y="402.63" width="10.00" height="41.66" fill="#4a4a4a" shape-rendering="crispEdges"/>
<rect x="103.10" y="400.71" width="10.00" height="1.92" fill="#5a4030" shape-rendering="crispEdges"/>
<rect x="103.10" y="396.23" width="10.00" height="4.49" fill="#ff7f0e" shape-rendering="crispEdges"/>
<rect x="103.10" y="390.14" width="10.00" height="6.09" fill="#98df8a" shape-rendering="crispEdges"/>
<rect x="103.10" y="384.69" width="10.00" height="5.45" fill="#f7b6d2" shape-rendering="crispEdges"/>
<rect x="103.10" y="380.20" width="10.00" height="4.49" fill="#17becf" shape-rendering="crispEdges"/>
<line x1="108.10" y1="444.60" x2="108.10" y2="447.40" stroke="#222" stroke-width="0.9"/>
<text x="110.39999999999999" y="450.5" font-size="6.8" text-anchor="end" fill="#333" font-weight="normal" transform="rotate(-90 110.39999999999999 450.5)" stroke="#333" stroke-width="0.1">SAS</text>
<rect x="123.90" y="407.76" width="10.00" height="36.54" fill="#4a4a4a" shape-rendering="crispEdges"/>
<rect x="123.90" y="396.87" width="10.00" height="10.90" fill="#2ca02c" shape-rendering="crispEdges"/>
<rect x="123.90" y="390.14" width="10.00" height="6.73" fill="#e2101c" shape-rendering="crispEdges"/>
<rect x="123.90" y="384.82" width="10.00" height="5.32" fill="#7f7f7f" shape-rendering="crispEdges"/>
<rect x="123.90" y="380.20" width="10.00" height="4.62" fill="#bcbd22" shape-rendering="crispEdges"/>
<line x1="128.90" y1="444.60" x2="128.90" y2="447.40" stroke="#222" stroke-width="0.9"/>
<text x="131.20000000000002" y="450.5" font-size="6.8" text-anchor="end" fill="#333" font-weight="normal" transform="rotate(-90 131.20000000000002 450.5)" stroke="#333" stroke-width="0.1">EAS</text>
<line x1="150.60" y1="377.60" x2="150.60" y2="444.80" stroke="#222" stroke-width="1.1"/>
<line x1="150.60" y1="444.60" x2="253.00" y2="444.60" stroke="#222" stroke-width="1.1"/>
<path d="M166.00 414.17 L176.00 407.12 L176.00 444.3 L166.00 444.3 Z" fill="#d6d6d6"/>
<path d="M186.80 407.12 L196.90 404.24 L196.90 444.3 L186.80 444.3 Z" fill="#d6d6d6"/>
<path d="M207.70 404.24 L217.20 414.17 L217.20 444.3 L207.70 444.3 Z" fill="#d6d6d6"/>
<path d="M228.00 414.17 L237.90 412.57 L237.90 444.3 L228.00 444.3 Z" fill="#d6d6d6"/>
<path d="M166.00 406.48 L176.00 399.11 L176.00 407.12 L166.00 414.17 Z" fill="#d8e4f4" fill-opacity="0.5"/>
<path d="M207.70 395.58 L217.20 402.63 L217.20 414.17 L207.70 404.24 Z" fill="#dce8f6" fill-opacity="0.5"/>
<path d="M207.70 389.17 L217.20 395.26 L217.20 402.63 L207.70 395.58 Z" fill="#ffe2c4" fill-opacity="0.45"/>
<path d="M228.00 380.20 L237.90 388.21 L237.90 397.19 L228.00 387.89 Z" fill="#f4b0b8" fill-opacity="0.45"/>
<rect x="155.60" y="414.17" width="10.00" height="30.13" fill="#4a4a4a" shape-rendering="crispEdges"/>
<rect x="155.60" y="406.48" width="10.00" height="7.69" fill="#aec7e8" shape-rendering="crispEdges"/>
<rect x="155.60" y="395.58" width="10.00" height="10.90" fill="#ffbb78" shape-rendering="crispEdges"/>
<rect x="155.60" y="386.61" width="10.00" height="8.97" fill="#98df8a" shape-rendering="crispEdges"/>
<rect x="155.60" y="380.20" width="10.00" height="6.41" fill="#f7b6d2" shape-rendering="crispEdges"/>
<line x1="160.60" y1="444.60" x2="160.60" y2="447.40" stroke="#222" stroke-width="0.9"/>
<text x="162.9" y="450.5" font-size="6.8" text-anchor="end" fill="#333" font-weight="normal" transform="rotate(-90 162.9 450.5)" stroke="#333" stroke-width="0.1">EUR</text>
<rect x="176.40" y="407.12" width="10.00" height="37.18" fill="#4a4a4a" shape-rendering="crispEdges"/>
<rect x="176.40" y="399.11" width="10.00" height="8.01" fill="#c49c94" shape-rendering="crispEdges"/>
<rect x="176.40" y="393.02" width="10.00" height="6.09" fill="#d0d0d0" shape-rendering="crispEdges"/>
<rect x="176.40" y="385.97" width="10.00" height="7.05" fill="#bcbd22" shape-rendering="crispEdges"/>
<rect x="176.40" y="380.20" width="10.00" height="5.77" fill="#17becf" shape-rendering="crispEdges"/>
<line x1="181.40" y1="444.60" x2="181.40" y2="447.40" stroke="#222" stroke-width="0.9"/>
<text x="183.70000000000002" y="450.5" font-size="6.8" text-anchor="end" fill="#333" font-weight="normal" transform="rotate(-90 183.70000000000002 450.5)" stroke="#333" stroke-width="0.1">AFR</text>
<rect x="197.30" y="404.24" width="10.00" height="40.06" fill="#4a4a4a" shape-rendering="crispEdges"/>
<rect x="197.30" y="395.58" width="10.00" height="8.65" fill="#aec7e8" shape-rendering="crispEdges"/>
<rect x="197.30" y="389.17" width="10.00" height="6.41" fill="#ffbb78" shape-rendering="crispEdges"/>
<rect x="197.30" y="383.41" width="10.00" height="5.77" fill="#98df8a" shape-rendering="crispEdges"/>
<rect x="197.30" y="380.20" width="10.00" height="3.21" fill="#9edae5" shape-rendering="crispEdges"/>
<line x1="202.30" y1="444.60" x2="202.30" y2="447.40" stroke="#222" stroke-width="0.9"/>
<text x="204.60000000000002" y="450.5" font-size="6.8" text-anchor="end" fill="#333" font-weight="normal" transform="rotate(-90 204.60000000000002 450.5)" stroke="#333" stroke-width="0.1">AMR</text>
<rect x="217.60" y="414.17" width="10.00" height="30.13" fill="#4a4a4a" shape-rendering="crispEdges"/>
<rect x="217.60" y="402.63" width="10.00" height="11.54" fill="#aec7e8" shape-rendering="crispEdges"/>
<rect x="217.60" y="395.26" width="10.00" height="7.37" fill="#ffbb78" shape-rendering="crispEdges"/>
<rect x="217.60" y="387.89" width="10.00" height="7.37" fill="#98df8a" shape-rendering="crispEdges"/>
<rect x="217.60" y="380.20" width="10.00" height="7.69" fill="#d62728" shape-rendering="crispEdges"/>
<line x1="222.60" y1="444.60" x2="222.60" y2="447.40" stroke="#222" stroke-width="0.9"/>
<text x="224.9" y="450.5" font-size="6.8" text-anchor="end" fill="#333" font-weight="normal" transform="rotate(-90 224.9 450.5)" stroke="#333" stroke-width="0.1">SAS</text>
<rect x="238.30" y="412.57" width="10.00" height="31.73" fill="#4a4a4a" shape-rendering="crispEdges"/>
<rect x="238.30" y="406.16" width="10.00" height="6.41" fill="#ffbb78" shape-rendering="crispEdges"/>
<rect x="238.30" y="397.19" width="10.00" height="8.97" fill="#e2101c" shape-rendering="crispEdges"/>
<rect x="238.30" y="388.21" width="10.00" height="8.97" fill="#9467bd" shape-rendering="crispEdges"/>
<rect x="238.30" y="380.20" width="10.00" height="8.01" fill="#8c564b" shape-rendering="crispEdges"/>
<line x1="243.30" y1="444.60" x2="243.30" y2="447.40" stroke="#222" stroke-width="0.9"/>
<text x="245.60000000000002" y="450.5" font-size="6.8" text-anchor="end" fill="#333" font-weight="normal" transform="rotate(-90 245.60000000000002 450.5)" stroke="#333" stroke-width="0.1">EAS</text>
<text x="0" y="0" font-size="8.2" text-anchor="middle" fill="#333" font-weight="normal" transform="translate(14.0 410.1) rotate(-90) scale(0.7828 1)" stroke="#333" stroke-width="0.1">Percentage (%)</text>
<rect x="35.20" y="470.60" width="7.50" height="2.20" fill="#3a3a3a"/>
<text x="0" y="0" font-size="6.0" text-anchor="start" fill="#4a4a4a" font-weight="normal" transform="translate(45.7 473.70000000000005) scale(0.8775 1)" stroke="#4a4a4a" stroke-width="0.1">Others</text>
<rect x="35.20" y="476.10" width="7.50" height="2.20" fill="#b8c8dc"/>
<text x="0" y="0" font-size="6.0" text-anchor="start" fill="#4a4a4a" font-weight="normal" transform="translate(45.7 479.20000000000005) scale(0.8791 1)" stroke="#4a4a4a" stroke-width="0.1">07:02</text>
<rect x="35.20" y="481.60" width="7.50" height="2.20" fill="#000"/>
<text x="0" y="0" font-size="6.0" text-anchor="start" fill="#4a4a4a" font-weight="normal" transform="translate(45.7 484.70000000000005) scale(0.8791 1)" stroke="#4a4a4a" stroke-width="0.1">08:01</text>
<rect x="35.20" y="487.10" width="7.50" height="2.20" fill="#2e8b4a"/>
<text x="0" y="0" font-size="6.0" text-anchor="start" fill="#4a4a4a" font-weight="normal" transform="translate(45.7 490.20000000000005) scale(0.8791 1)" stroke="#4a4a4a" stroke-width="0.1">40:01</text>
<rect x="65.80" y="470.60" width="7.50" height="2.20" fill="#b5d9a0"/>
<text x="0" y="0" font-size="6.0" text-anchor="start" fill="#4a4a4a" font-weight="normal" transform="translate(76.3 473.70000000000005) scale(0.8791 1)" stroke="#4a4a4a" stroke-width="0.1">44:03</text>
<rect x="65.80" y="476.10" width="7.50" height="2.20" fill="#c8102e"/>
<text x="0" y="0" font-size="6.0" text-anchor="start" fill="#4a4a4a" font-weight="normal" transform="translate(76.3 479.20000000000005) scale(0.8791 1)" stroke="#4a4a4a" stroke-width="0.1">58:01</text>
<rect x="65.80" y="481.60" width="7.50" height="2.20" fill="#7a6a9a"/>
<text x="0" y="0" font-size="6.0" text-anchor="start" fill="#4a4a4a" font-weight="normal" transform="translate(76.3 484.70000000000005) scale(0.8791 1)" stroke="#4a4a4a" stroke-width="0.1">42:01</text>
<rect x="65.80" y="487.10" width="7.50" height="2.20" fill="#c8c0d8"/>
<text x="0" y="0" font-size="6.0" text-anchor="start" fill="#4a4a4a" font-weight="normal" transform="translate(76.3 490.20000000000005) scale(0.8791 1)" stroke="#4a4a4a" stroke-width="0.1">44:02</text>
<rect x="92.30" y="470.60" width="7.50" height="2.20" fill="#8c564b"/>
<text x="0" y="0" font-size="6.0" text-anchor="start" fill="#4a4a4a" font-weight="normal" transform="translate(102.8 473.70000000000005) scale(0.8791 1)" stroke="#4a4a4a" stroke-width="0.1">58:02</text>
<rect x="92.30" y="476.10" width="7.50" height="2.20" fill="#e08ac8"/>
<text x="0" y="0" font-size="6.0" text-anchor="start" fill="#4a4a4a" font-weight="normal" transform="translate(102.8 479.20000000000005) scale(0.8791 1)" stroke="#4a4a4a" stroke-width="0.1">53:01</text>
<rect x="92.30" y="481.60" width="7.50" height="2.20" fill="#f7c6da"/>
<text x="0" y="0" font-size="6.0" text-anchor="start" fill="#4a4a4a" font-weight="normal" transform="translate(102.8 484.70000000000005) scale(0.8791 1)" stroke="#4a4a4a" stroke-width="0.1">52:01</text>
<rect x="92.30" y="487.10" width="7.50" height="2.20" fill="#7f7f7f"/>
<text x="0" y="0" font-size="6.0" text-anchor="start" fill="#4a4a4a" font-weight="normal" transform="translate(102.8 490.20000000000005) scale(0.8791 1)" stroke="#4a4a4a" stroke-width="0.1">46:01</text>
<rect x="118.90" y="470.60" width="7.50" height="2.20" fill="#bcbd22"/>
<text x="0" y="0" font-size="6.0" text-anchor="start" fill="#4a4a4a" font-weight="normal" transform="translate(129.4 473.70000000000005) scale(0.8791 1)" stroke="#4a4a4a" stroke-width="0.1">13:01</text>
<rect x="118.90" y="476.10" width="7.50" height="2.20" fill="#d8dc90"/>
<text x="0" y="0" font-size="6.0" text-anchor="start" fill="#4a4a4a" font-weight="normal" transform="translate(129.4 479.20000000000005) scale(0.8791 1)" stroke="#4a4a4a" stroke-width="0.1">15:01</text>
<rect x="118.90" y="481.60" width="7.50" height="2.20" fill="#17b0c8"/>
<text x="0" y="0" font-size="6.0" text-anchor="start" fill="#4a4a4a" font-weight="normal" transform="translate(129.4 484.70000000000005) scale(0.8791 1)" stroke="#4a4a4a" stroke-width="0.1">51:01</text>
<rect x="118.90" y="487.10" width="7.50" height="2.20" fill="#a8dce8"/>
<text x="0" y="0" font-size="6.0" text-anchor="start" fill="#4a4a4a" font-weight="normal" transform="translate(129.4 490.20000000000005) scale(0.8791 1)" stroke="#4a4a4a" stroke-width="0.1">18:01</text>
<rect x="146.30" y="470.60" width="7.50" height="2.20" fill="#333"/>
<text x="0" y="0" font-size="6.0" text-anchor="start" fill="#4a4a4a" font-weight="normal" transform="translate(156.8 473.70000000000005) scale(0.8775 1)" stroke="#4a4a4a" stroke-width="0.1">Others</text>
<rect x="146.30" y="476.10" width="7.50" height="2.20" fill="#b4c4e0"/>
<text x="0" y="0" font-size="6.0" text-anchor="start" fill="#4a4a4a" font-weight="normal" transform="translate(156.8 479.20000000000005) scale(0.8791 1)" stroke="#4a4a4a" stroke-width="0.1">07:01</text>
<rect x="146.30" y="481.60" width="7.50" height="2.20" fill="#f0c890"/>
<text x="0" y="0" font-size="6.0" text-anchor="start" fill="#4a4a4a" font-weight="normal" transform="translate(156.8 484.70000000000005) scale(0.8791 1)" stroke="#4a4a4a" stroke-width="0.1">15:01</text>
<rect x="146.30" y="487.10" width="7.50" height="2.20" fill="#7cc87c"/>
<text x="0" y="0" font-size="6.0" text-anchor="start" fill="#4a4a4a" font-weight="normal" transform="translate(156.8 490.20000000000005) scale(0.8791 1)" stroke="#4a4a4a" stroke-width="0.1">03:01</text>
<rect x="176.30" y="470.60" width="7.50" height="2.20" fill="#c0141c"/>
<text x="0" y="0" font-size="6.0" text-anchor="start" fill="#4a4a4a" font-weight="normal" transform="translate(186.8 473.70000000000005) scale(0.8791 1)" stroke="#4a4a4a" stroke-width="0.1">15:02</text>
<rect x="176.30" y="476.10" width="7.50" height="2.20" fill="#7050a8"/>
<text x="0" y="0" font-size="6.0" text-anchor="start" fill="#4a4a4a" font-weight="normal" transform="translate(186.8 479.20000000000005) scale(0.8791 1)" stroke="#4a4a4a" stroke-width="0.1">09:01</text>
<rect x="176.30" y="481.60" width="7.50" height="2.20" fill="#5a3a30"/>
<text x="0" y="0" font-size="6.0" text-anchor="start" fill="#4a4a4a" font-weight="normal" transform="translate(186.8 484.70000000000005) scale(0.8791 1)" stroke="#4a4a4a" stroke-width="0.1">12:02</text>
<rect x="203.80" y="470.60" width="7.50" height="2.20" fill="#c49c94"/>
<text x="0" y="0" font-size="6.0" text-anchor="start" fill="#4a4a4a" font-weight="normal" transform="translate(214.3 473.70000000000005) scale(0.8791 1)" stroke="#4a4a4a" stroke-width="0.1">15:03</text>
<rect x="203.80" y="476.10" width="7.50" height="2.20" fill="#f0b0cc"/>
<text x="0" y="0" font-size="6.0" text-anchor="start" fill="#4a4a4a" font-weight="normal" transform="translate(214.3 479.20000000000005) scale(0.8791 1)" stroke="#4a4a4a" stroke-width="0.1">04:01</text>
<rect x="203.80" y="481.60" width="7.50" height="2.20" fill="#c7c7c7"/>
<text x="0" y="0" font-size="6.0" text-anchor="start" fill="#4a4a4a" font-weight="normal" transform="translate(214.3 484.70000000000005) scale(0.9060 1)" stroke="#4a4a4a" stroke-width="0.1">11:01</text>
<rect x="230.00" y="470.60" width="7.50" height="2.20" fill="#bcbd22"/>
<text x="0" y="0" font-size="6.0" text-anchor="start" fill="#4a4a4a" font-weight="normal" transform="translate(240.5 473.70000000000005) scale(0.8791 1)" stroke="#4a4a4a" stroke-width="0.1">03:02</text>
<rect x="230.00" y="476.10" width="7.50" height="2.20" fill="#17becf"/>
<text x="0" y="0" font-size="6.0" text-anchor="start" fill="#4a4a4a" font-weight="normal" transform="translate(240.5 479.20000000000005) scale(0.8791 1)" stroke="#4a4a4a" stroke-width="0.1">13:01</text>
<rect x="230.00" y="481.60" width="7.50" height="2.20" fill="#a8dce8"/>
<text x="0" y="0" font-size="6.0" text-anchor="start" fill="#4a4a4a" font-weight="normal" transform="translate(240.5 484.70000000000005) scale(0.8791 1)" stroke="#4a4a4a" stroke-width="0.1">13:02</text>
<line x1="320.00" y1="265.50" x2="320.00" y2="309.80" stroke="#222" stroke-width="1.1"/>
<line x1="317.20" y1="268.70" x2="320.00" y2="268.70" stroke="#222" stroke-width="0.9"/>
<text x="314.5" y="271.0" font-size="6.6" text-anchor="end" fill="#333" font-weight="normal" stroke="#333" stroke-width="0.1">1000</text>
<line x1="317.20" y1="282.30" x2="320.00" y2="282.30" stroke="#222" stroke-width="0.9"/>
<text x="314.5" y="284.6" font-size="6.6" text-anchor="end" fill="#333" font-weight="normal" stroke="#333" stroke-width="0.1">100</text>
<line x1="317.20" y1="295.90" x2="320.00" y2="295.90" stroke="#222" stroke-width="0.9"/>
<text x="314.5" y="298.2" font-size="6.6" text-anchor="end" fill="#333" font-weight="normal" stroke="#333" stroke-width="0.1">10</text>
<line x1="317.20" y1="309.50" x2="320.00" y2="309.50" stroke="#222" stroke-width="0.9"/>
<text x="314.5" y="311.8" font-size="6.6" text-anchor="end" fill="#333" font-weight="normal" stroke="#333" stroke-width="0.1">1</text>
<line x1="320.00" y1="309.60" x2="458.00" y2="309.60" stroke="#222" stroke-width="1.1"/>
<text x="0" y="0" font-size="8.2" text-anchor="middle" fill="#333" font-weight="normal" transform="translate(293.8 286.3) rotate(-90) scale(0.7903 1)" stroke="#333" stroke-width="0.1">No. Samples</text>
<rect x="328.70" y="271.71" width="10.80" height="37.79" fill="#5f9dc9"/>
<text x="334.1" y="270.40730718076276" font-size="6.8" text-anchor="middle" fill="#333" font-weight="normal" stroke="#333" stroke-width="0.1">601</text>
<rect x="356.40" y="289.22" width="10.80" height="20.28" fill="#df7a78"/>
<text x="361.8" y="287.9174809638539" font-size="6.8" text-anchor="middle" fill="#333" font-weight="normal" stroke="#333" stroke-width="0.1">31</text>
<rect x="384.10" y="287.71" width="10.80" height="21.79" fill="#86d0c0"/>
<text x="389.5" y="286.4119841179397" font-size="6.8" text-anchor="middle" fill="#333" font-weight="normal" stroke="#333" stroke-width="0.1">40</text>
<rect x="411.80" y="284.41" width="10.80" height="25.09" fill="#b384c9"/>
<text x="417.20000000000005" y="283.1066666558061" font-size="6.8" text-anchor="middle" fill="#333" font-weight="normal" stroke="#333" stroke-width="0.1">70</text>
<rect x="439.50" y="294.82" width="10.80" height="14.68" fill="#6cc08b"/>
<text x="444.90000000000003" y="293.5231350537523" font-size="6.8" text-anchor="middle" fill="#333" font-weight="normal" stroke="#333" stroke-width="0.1">12</text>
<rect x="320.30" y="316.50" width="27.70" height="22.60" fill="#dedc1e" shape-rendering="crispEdges"/>
<rect x="348.00" y="316.50" width="27.70" height="22.60" fill="#74bc64" shape-rendering="crispEdges"/>
<rect x="375.70" y="316.50" width="27.70" height="22.60" fill="#f7e31c" shape-rendering="crispEdges"/>
<rect x="403.40" y="316.50" width="27.70" height="22.60" fill="#d6da20" shape-rendering="crispEdges"/>
<rect x="431.10" y="316.50" width="27.70" height="22.60" fill="#f7e31c" shape-rendering="crispEdges"/>
<rect x="320.30" y="339.10" width="27.70" height="22.60" fill="#d6da20" shape-rendering="crispEdges"/>
<rect x="348.00" y="339.10" width="27.70" height="22.60" fill="#22a888" shape-rendering="crispEdges"/>
<rect x="375.70" y="339.10" width="27.70" height="22.60" fill="#18a290" shape-rendering="crispEdges"/>
<rect x="403.40" y="339.10" width="27.70" height="22.60" fill="#d8dc18" shape-rendering="crispEdges"/>
<rect x="431.10" y="339.10" width="27.70" height="22.60" fill="#f7e31c" shape-rendering="crispEdges"/>
<rect x="320.30" y="361.70" width="27.70" height="22.60" fill="#f0e41a" shape-rendering="crispEdges"/>
<rect x="348.00" y="361.70" width="27.70" height="22.60" fill="#f7e31c" shape-rendering="crispEdges"/>
<rect x="375.70" y="361.70" width="27.70" height="22.60" fill="#f7e31c" shape-rendering="crispEdges"/>
<rect x="403.40" y="361.70" width="27.70" height="22.60" fill="#dcdf1a" shape-rendering="crispEdges"/>
<rect x="431.10" y="361.70" width="27.70" height="22.60" fill="#f7e31c" shape-rendering="crispEdges"/>
<rect x="320.30" y="384.30" width="27.70" height="22.60" fill="#d0d922" shape-rendering="crispEdges"/>
<rect x="348.00" y="384.30" width="27.70" height="22.60" fill="#6abd5e" shape-rendering="crispEdges"/>
<rect x="375.70" y="384.30" width="27.70" height="22.60" fill="#f7e31c" shape-rendering="crispEdges"/>
<rect x="403.40" y="384.30" width="27.70" height="22.60" fill="#aece32" shape-rendering="crispEdges"/>
<rect x="431.10" y="384.30" width="27.70" height="22.60" fill="#f7e31c" shape-rendering="crispEdges"/>
<rect x="320.30" y="406.90" width="27.70" height="22.60" fill="#f5e31a" shape-rendering="crispEdges"/>
<rect x="348.00" y="406.90" width="27.70" height="22.60" fill="#f7e31c" shape-rendering="crispEdges"/>
<rect x="375.70" y="406.90" width="27.70" height="22.60" fill="#f7e31c" shape-rendering="crispEdges"/>
<rect x="403.40" y="406.90" width="27.70" height="22.60" fill="#f7e31c" shape-rendering="crispEdges"/>
<rect x="431.10" y="406.90" width="27.70" height="22.60" fill="#22a888" shape-rendering="crispEdges"/>
<rect x="320.30" y="429.50" width="27.70" height="22.60" fill="#8dc445" shape-rendering="crispEdges"/>
<rect x="348.00" y="429.50" width="27.70" height="22.60" fill="#4a1c68" shape-rendering="crispEdges"/>
<rect x="375.70" y="429.50" width="27.70" height="22.60" fill="#68b862" shape-rendering="crispEdges"/>
<rect x="403.40" y="429.50" width="27.70" height="22.60" fill="#7cc05a" shape-rendering="crispEdges"/>
<rect x="431.10" y="429.50" width="27.70" height="22.60" fill="#4a1860" shape-rendering="crispEdges"/>
<text x="334.15000000000003" y="330.2" font-size="6.8" text-anchor="middle" fill="#1e1e1e" font-weight="normal" stroke="#1e1e1e" stroke-width="0.1">99.8</text>
<text x="361.85" y="330.2" font-size="6.8" text-anchor="middle" fill="#1e1e1e" font-weight="normal" stroke="#1e1e1e" stroke-width="0.1">96.7</text>
<text x="389.55" y="330.2" font-size="6.8" text-anchor="middle" fill="#1e1e1e" font-weight="normal" stroke="#1e1e1e" stroke-width="0.1">100</text>
<text x="417.25" y="330.2" font-size="6.8" text-anchor="middle" fill="#1e1e1e" font-weight="normal" stroke="#1e1e1e" stroke-width="0.1">99.2</text>
<text x="444.95000000000005" y="330.2" font-size="6.8" text-anchor="middle" fill="#1e1e1e" font-weight="normal" stroke="#1e1e1e" stroke-width="0.1">100</text>
<text x="334.15000000000003" y="352.8" font-size="6.8" text-anchor="middle" fill="#1e1e1e" font-weight="normal" stroke="#1e1e1e" stroke-width="0.1">99.2</text>
<text x="361.85" y="352.8" font-size="6.8" text-anchor="middle" fill="#1e1e1e" font-weight="normal" stroke="#1e1e1e" stroke-width="0.1">94.4</text>
<text x="389.55" y="352.8" font-size="6.8" text-anchor="middle" fill="#1e1e1e" font-weight="normal" stroke="#1e1e1e" stroke-width="0.1">93.9</text>
<text x="417.25" y="352.8" font-size="6.8" text-anchor="middle" fill="#1e1e1e" font-weight="normal" stroke="#1e1e1e" stroke-width="0.1">99.1</text>
<text x="444.95000000000005" y="352.8" font-size="6.8" text-anchor="middle" fill="#1e1e1e" font-weight="normal" stroke="#1e1e1e" stroke-width="0.1">100</text>
<text x="334.15000000000003" y="375.4" font-size="6.8" text-anchor="middle" fill="#1e1e1e" font-weight="normal" stroke="#1e1e1e" stroke-width="0.1">99.7</text>
<text x="361.85" y="375.4" font-size="6.8" text-anchor="middle" fill="#1e1e1e" font-weight="normal" stroke="#1e1e1e" stroke-width="0.1">100</text>
<text x="389.55" y="375.4" font-size="6.8" text-anchor="middle" fill="#1e1e1e" font-weight="normal" stroke="#1e1e1e" stroke-width="0.1">100</text>
<text x="417.25" y="375.4" font-size="6.8" text-anchor="middle" fill="#1e1e1e" font-weight="normal" stroke="#1e1e1e" stroke-width="0.1">99.3</text>
<text x="444.95000000000005" y="375.4" font-size="6.8" text-anchor="middle" fill="#1e1e1e" font-weight="normal" stroke="#1e1e1e" stroke-width="0.1">100</text>
<text x="334.15000000000003" y="398.0" font-size="6.8" text-anchor="middle" fill="#1e1e1e" font-weight="normal" stroke="#1e1e1e" stroke-width="0.1">99.0</text>
<text x="361.85" y="398.0" font-size="6.8" text-anchor="middle" fill="#1e1e1e" font-weight="normal" stroke="#1e1e1e" stroke-width="0.1">96.6</text>
<text x="389.55" y="398.0" font-size="6.8" text-anchor="middle" fill="#1e1e1e" font-weight="normal" stroke="#1e1e1e" stroke-width="0.1">100</text>
<text x="417.25" y="398.0" font-size="6.8" text-anchor="middle" fill="#1e1e1e" font-weight="normal" stroke="#1e1e1e" stroke-width="0.1">98.3</text>
<text x="444.95000000000005" y="398.0" font-size="6.8" text-anchor="middle" fill="#1e1e1e" font-weight="normal" stroke="#1e1e1e" stroke-width="0.1">100</text>
<text x="334.15000000000003" y="420.59999999999997" font-size="6.8" text-anchor="middle" fill="#1e1e1e" font-weight="normal" stroke="#1e1e1e" stroke-width="0.1">99.9</text>
<text x="361.85" y="420.59999999999997" font-size="6.8" text-anchor="middle" fill="#1e1e1e" font-weight="normal" stroke="#1e1e1e" stroke-width="0.1">100</text>
<text x="389.55" y="420.59999999999997" font-size="6.8" text-anchor="middle" fill="#1e1e1e" font-weight="normal" stroke="#1e1e1e" stroke-width="0.1">100</text>
<text x="417.25" y="420.59999999999997" font-size="6.8" text-anchor="middle" fill="#1e1e1e" font-weight="normal" stroke="#1e1e1e" stroke-width="0.1">100</text>
<text x="444.95000000000005" y="420.59999999999997" font-size="6.8" text-anchor="middle" fill="#1e1e1e" font-weight="normal" stroke="#1e1e1e" stroke-width="0.1">94.4</text>
<text x="334.15000000000003" y="443.2" font-size="6.8" text-anchor="middle" fill="#1e1e1e" font-weight="normal" stroke="#1e1e1e" stroke-width="0.1">97.6</text>
<text x="361.85" y="443.2" font-size="6.8" text-anchor="middle" fill="#e8def0" font-weight="normal" stroke="#e8def0" stroke-width="0.1">86.1</text>
<text x="389.55" y="443.2" font-size="6.8" text-anchor="middle" fill="#1e1e1e" font-weight="normal" stroke="#1e1e1e" stroke-width="0.1">96.4</text>
<text x="417.25" y="443.2" font-size="6.8" text-anchor="middle" fill="#1e1e1e" font-weight="normal" stroke="#1e1e1e" stroke-width="0.1">96.9</text>
<text x="444.95000000000005" y="443.2" font-size="6.8" text-anchor="middle" fill="#e8def0" font-weight="normal" stroke="#e8def0" stroke-width="0.1">85.7</text>
<line x1="315.90" y1="327.80" x2="318.70" y2="327.80" stroke="#222" stroke-width="0.9"/>
<text x="313.0" y="327.8" font-size="6.4" text-anchor="middle" fill="#333" font-weight="normal" transform="rotate(-90 313.0 327.8)" stroke="#333" stroke-width="0.1">A</text>
<line x1="315.90" y1="350.40" x2="318.70" y2="350.40" stroke="#222" stroke-width="0.9"/>
<text x="313.0" y="350.40000000000003" font-size="6.4" text-anchor="middle" fill="#333" font-weight="normal" transform="rotate(-90 313.0 350.40000000000003)" stroke="#333" stroke-width="0.1">B</text>
<line x1="315.90" y1="373.00" x2="318.70" y2="373.00" stroke="#222" stroke-width="0.9"/>
<text x="313.0" y="373.0" font-size="6.4" text-anchor="middle" fill="#333" font-weight="normal" transform="rotate(-90 313.0 373.0)" stroke="#333" stroke-width="0.1">C</text>
<line x1="315.90" y1="395.60" x2="318.70" y2="395.60" stroke="#222" stroke-width="0.9"/>
<text x="0" y="0" font-size="6.4" text-anchor="middle" fill="#333" font-weight="normal" transform="translate(313.0 395.6) rotate(-90) scale(0.9841 1)" stroke="#333" stroke-width="0.1">DRB1</text>
<line x1="315.90" y1="418.20" x2="318.70" y2="418.20" stroke="#222" stroke-width="0.9"/>
<text x="0" y="0" font-size="6.4" text-anchor="middle" fill="#333" font-weight="normal" transform="translate(313.0 418.2) rotate(-90) scale(0.9640 1)" stroke="#333" stroke-width="0.1">DQB1</text>
<line x1="315.90" y1="440.80" x2="318.70" y2="440.80" stroke="#222" stroke-width="0.9"/>
<text x="0" y="0" font-size="6.4" text-anchor="middle" fill="#333" font-weight="normal" transform="translate(313.0 440.8) rotate(-90) scale(1.0049 1)" stroke="#333" stroke-width="0.1">DPB1</text>
<line x1="334.10" y1="452.80" x2="334.10" y2="455.50" stroke="#222" stroke-width="0.9"/>
<text x="336.5" y="458" font-size="6.8" text-anchor="end" fill="#333" font-weight="normal" transform="rotate(-90 336.5 458)" stroke="#333" stroke-width="0.1">EUR</text>
<line x1="361.80" y1="452.80" x2="361.80" y2="455.50" stroke="#222" stroke-width="0.9"/>
<text x="364.2" y="458" font-size="6.8" text-anchor="end" fill="#333" font-weight="normal" transform="rotate(-90 364.2 458)" stroke="#333" stroke-width="0.1">AFR</text>
<line x1="389.50" y1="452.80" x2="389.50" y2="455.50" stroke="#222" stroke-width="0.9"/>
<text x="391.9" y="458" font-size="6.8" text-anchor="end" fill="#333" font-weight="normal" transform="rotate(-90 391.9 458)" stroke="#333" stroke-width="0.1">AMR</text>
<line x1="417.20" y1="452.80" x2="417.20" y2="455.50" stroke="#222" stroke-width="0.9"/>
<text x="419.6" y="458" font-size="6.8" text-anchor="end" fill="#333" font-weight="normal" transform="rotate(-90 419.6 458)" stroke="#333" stroke-width="0.1">SAS</text>
<line x1="444.90" y1="452.80" x2="444.90" y2="455.50" stroke="#222" stroke-width="0.9"/>
<text x="447.3" y="458" font-size="6.8" text-anchor="end" fill="#333" font-weight="normal" transform="rotate(-90 447.3 458)" stroke="#333" stroke-width="0.1">EAS</text>
<linearGradient id="vir" x1="0" y1="1" x2="0" y2="0"><stop offset="0" stop-color="#440154"/><stop offset="0.13" stop-color="#482878"/><stop offset="0.25" stop-color="#3e4989"/><stop offset="0.38" stop-color="#31688e"/><stop offset="0.5" stop-color="#26828e"/><stop offset="0.63" stop-color="#1f9e89"/><stop offset="0.75" stop-color="#35b779"/><stop offset="0.88" stop-color="#6ece58"/><stop offset="1" stop-color="#fde725"/></linearGradient>
<rect x="299.00" y="332.70" width="4.70" height="102.60" fill="url(#vir)"/>
<line x1="296.30" y1="368.40" x2="299.00" y2="368.40" stroke="#222" stroke-width="0.9"/>
<line x1="296.30" y1="403.80" x2="299.00" y2="403.80" stroke="#222" stroke-width="0.9"/>
<text x="292.8" y="370.7" font-size="6.8" text-anchor="end" fill="#333" font-weight="normal" stroke="#333" stroke-width="0.1">95%</text>
<text x="292.8" y="406.1" font-size="6.8" text-anchor="end" fill="#333" font-weight="normal" stroke="#333" stroke-width="0.1">90%</text>
<line x1="466.50" y1="315.90" x2="466.50" y2="450.00" stroke="#222" stroke-width="1.1"/>
<line x1="466.50" y1="449.80" x2="510.80" y2="449.80" stroke="#222" stroke-width="1.1"/>
<rect x="467.00" y="322.10" width="30.40" height="10.80" fill="#b3b3b3"/>
<rect x="467.00" y="344.70" width="29.50" height="10.80" fill="#b3b3b3"/>
<rect x="467.00" y="367.30" width="30.30" height="10.80" fill="#b3b3b3"/>
<rect x="467.00" y="389.90" width="28.80" height="10.80" fill="#b3b3b3"/>
<rect x="467.00" y="412.50" width="27.60" height="10.80" fill="#b3b3b3"/>
<rect x="467.00" y="435.10" width="20.50" height="10.80" fill="#b3b3b3"/>
<line x1="467.00" y1="449.80" x2="467.00" y2="452.60" stroke="#222" stroke-width="0.9"/>
<text x="464.7" y="453.8" font-size="6.8" text-anchor="start" fill="#333" font-weight="normal" transform="rotate(90 464.7 453.8)" stroke="#333" stroke-width="0.1">1</text>
<line x1="487.00" y1="449.80" x2="487.00" y2="452.60" stroke="#222" stroke-width="0.9"/>
<text x="484.7" y="453.8" font-size="6.8" text-anchor="start" fill="#333" font-weight="normal" transform="rotate(90 484.7 453.8)" stroke="#333" stroke-width="0.1">1000</text>
<line x1="506.70" y1="449.80" x2="506.70" y2="452.60" stroke="#222" stroke-width="0.9"/>
<text x="504.4" y="453.8" font-size="6.8" text-anchor="start" fill="#333" font-weight="normal" transform="rotate(90 504.4 453.8)" stroke="#333" stroke-width="0.1">2000</text>
<text x="0" y="0" font-size="8.2" text-anchor="middle" fill="#333" font-weight="normal" transform="translate(488.25 478.7) scale(0.7948 1)" stroke="#333" stroke-width="0.1">No. comparisons</text>
<rect x="0.5" y="0.5" width="519" height="497" fill="none" stroke="#474747" stroke-width="1"/>
</svg>
</body></html>
